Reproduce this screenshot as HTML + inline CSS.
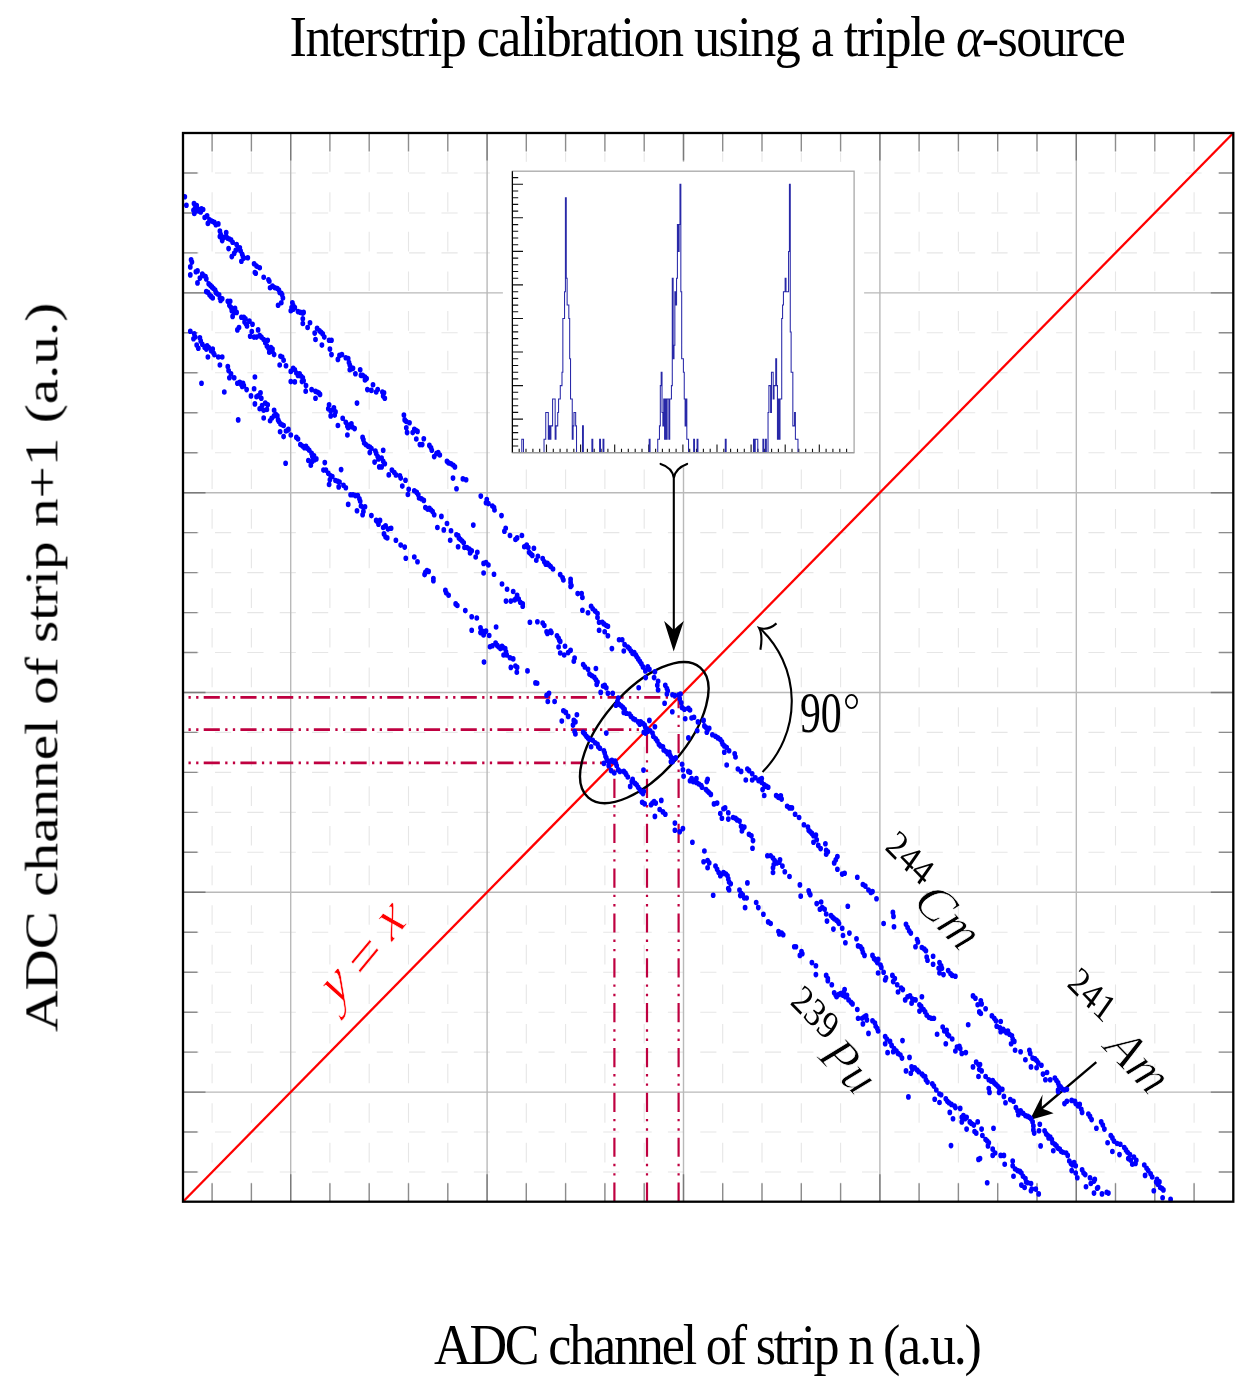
<!DOCTYPE html><html><head><meta charset="utf-8"><style>html,body{margin:0;padding:0;background:#fff;}body{width:1254px;height:1394px;overflow:hidden;position:relative;}svg{position:absolute;left:0;top:0;}text{font-family:"Liberation Serif",serif;}g{filter:saturate(1);}</style></head><body>
<svg width="1254" height="1394" viewBox="0 0 1254 1394">
<path d="M212.1 133V1201.7M251.4 133V1201.7M329.9 133V1201.7M369.2 133V1201.7M408.5 133V1201.7M447.8 133V1201.7M526.3 133V1201.7M565.6 133V1201.7M604.9 133V1201.7M644.2 133V1201.7M722.7 133V1201.7M762 133V1201.7M801.3 133V1201.7M840.6 133V1201.7M919.1 133V1201.7M958.4 133V1201.7M997.7 133V1201.7M1037 133V1201.7M1115.5 133V1201.7M1154.8 133V1201.7M1194.1 133V1201.7" stroke="#e6e6e6" stroke-width="1.1" stroke-dasharray="19.6 20.01" stroke-dashoffset="-19.6" fill="none"/>
<path d="M183 173H1233.3M183 213H1233.3M183 252.9H1233.3M183 332.8H1233.3M183 372.8H1233.3M183 412.8H1233.3M183 452.7H1233.3M183 532.6H1233.3M183 572.6H1233.3M183 612.6H1233.3M183 652.5H1233.3M183 732.4H1233.3M183 772.4H1233.3M183 812.4H1233.3M183 852.3H1233.3M183 932.2H1233.3M183 972.2H1233.3M183 1012.2H1233.3M183 1052.1H1233.3M183 1132H1233.3M183 1172H1233.3" stroke="#e6e6e6" stroke-width="1.1" stroke-dasharray="16.17 16.18" stroke-dashoffset="0.35" fill="none"/>
<path d="M290.7 133V1201.7M487.1 133V1201.7M683.5 133V1201.7M879.9 133V1201.7M1076.3 133V1201.7M183 292.9H1233.3M183 492.7H1233.3M183 692.5H1233.3M183 892.3H1233.3M183 1092.1H1233.3" stroke="#b9b9b9" stroke-width="1.4" fill="none"/>
<path d="M212.1 133V151.5M212.1 1201.7V1183.2M251.4 133V151.5M251.4 1201.7V1183.2M329.9 133V151.5M329.9 1201.7V1183.2M369.2 133V151.5M369.2 1201.7V1183.2M408.5 133V151.5M408.5 1201.7V1183.2M447.8 133V151.5M447.8 1201.7V1183.2M526.3 133V151.5M526.3 1201.7V1183.2M565.6 133V151.5M565.6 1201.7V1183.2M604.9 133V151.5M604.9 1201.7V1183.2M644.2 133V151.5M644.2 1201.7V1183.2M722.7 133V151.5M722.7 1201.7V1183.2M762 133V151.5M762 1201.7V1183.2M801.3 133V151.5M801.3 1201.7V1183.2M840.6 133V151.5M840.6 1201.7V1183.2M919.1 133V151.5M919.1 1201.7V1183.2M958.4 133V151.5M958.4 1201.7V1183.2M997.7 133V151.5M997.7 1201.7V1183.2M1037 133V151.5M1037 1201.7V1183.2M1115.5 133V151.5M1115.5 1201.7V1183.2M1154.8 133V151.5M1154.8 1201.7V1183.2M1194.1 133V151.5M1194.1 1201.7V1183.2M183 173H197.5M1233.3 173H1218.8M183 213H197.5M1233.3 213H1218.8M183 252.9H197.5M1233.3 252.9H1218.8M183 332.8H197.5M1233.3 332.8H1218.8M183 372.8H197.5M1233.3 372.8H1218.8M183 412.8H197.5M1233.3 412.8H1218.8M183 452.7H197.5M1233.3 452.7H1218.8M183 532.6H197.5M1233.3 532.6H1218.8M183 572.6H197.5M1233.3 572.6H1218.8M183 612.6H197.5M1233.3 612.6H1218.8M183 652.5H197.5M1233.3 652.5H1218.8M183 732.4H197.5M1233.3 732.4H1218.8M183 772.4H197.5M1233.3 772.4H1218.8M183 812.4H197.5M1233.3 812.4H1218.8M183 852.3H197.5M1233.3 852.3H1218.8M183 932.2H197.5M1233.3 932.2H1218.8M183 972.2H197.5M1233.3 972.2H1218.8M183 1012.2H197.5M1233.3 1012.2H1218.8M183 1052.1H197.5M1233.3 1052.1H1218.8M183 1132H197.5M1233.3 1132H1218.8M183 1172H197.5M1233.3 1172H1218.8" stroke="#8c8c8c" stroke-width="1.4" fill="none"/>
<path d="M290.7 133V160.5M290.7 1201.7V1174.2M487.1 133V160.5M487.1 1201.7V1174.2M683.5 133V160.5M683.5 1201.7V1174.2M879.9 133V160.5M879.9 1201.7V1174.2M1076.3 133V160.5M1076.3 1201.7V1174.2M183 292.9H205.5M1233.3 292.9H1210.8M183 492.7H205.5M1233.3 492.7H1210.8M183 692.5H205.5M1233.3 692.5H1210.8M183 892.3H205.5M1233.3 892.3H1210.8M183 1092.1H205.5M1233.3 1092.1H1210.8" stroke="#7a7a7a" stroke-width="1.4" fill="none"/>
<path d="M167 762.9H615.5" stroke="#bf0040" stroke-width="2.7" stroke-dasharray="16.12 5.37 2.29 5.37 2.29 5.27" fill="none" clip-path="url(#plotclip)"/>
<path d="M614.4 1201.7V762.9" stroke="#bf0040" stroke-width="2.2" stroke-dasharray="19.21 6.94 2.41 6.94 2.41 6.94" fill="none"/>
<path d="M167 729.6H648.1" stroke="#bf0040" stroke-width="2.7" stroke-dasharray="16.12 5.37 2.29 5.37 2.29 5.27" fill="none" clip-path="url(#plotclip)"/>
<path d="M647 1201.7V729.6" stroke="#bf0040" stroke-width="2.2" stroke-dasharray="19.21 6.94 2.41 6.94 2.41 6.94" fill="none"/>
<path d="M167 697.4H679.7" stroke="#bf0040" stroke-width="2.7" stroke-dasharray="16.12 5.37 2.29 5.37 2.29 5.27" fill="none" clip-path="url(#plotclip)"/>
<path d="M678.6 1201.7V697.4" stroke="#bf0040" stroke-width="2.2" stroke-dasharray="19.21 6.94 2.41 6.94 2.41 6.94" fill="none"/>
<path d="M183 1201.7L1233.3 133" stroke="#ff0000" stroke-width="2.3" fill="none"/>
<ellipse cx="644.3" cy="732.6" rx="85.8" ry="41.5" transform="rotate(-49.3 644.3 732.6)" stroke="#000" stroke-width="2.4" fill="none"/>
<rect x="502.9" y="161.8" width="361.2" height="305.3" fill="#fff"/>
<rect x="512.4" y="171.2" width="341.7" height="281.5" fill="#fff" stroke="#a8a8a8" stroke-width="1.3"/>
<path d="M519.2 452.7V448.7M526 452.7V448.7M532.9 452.7V448.7M539.7 452.7V448.7M546.5 452.7V444.6M553.3 452.7V448.7M560.1 452.7V448.7M567 452.7V448.7M573.8 452.7V448.7M580.6 452.7V444.6M587.4 452.7V448.7M594.2 452.7V448.7M601.1 452.7V448.7M607.9 452.7V448.7M614.7 452.7V444.6M621.5 452.7V448.7M628.3 452.7V448.7M635.2 452.7V448.7M642 452.7V448.7M648.8 452.7V444.6M655.6 452.7V448.7M662.4 452.7V448.7M669.3 452.7V448.7M676.1 452.7V448.7M682.9 452.7V444.6M689.7 452.7V448.7M696.5 452.7V448.7M703.4 452.7V448.7M710.2 452.7V448.7M717 452.7V444.6M723.8 452.7V448.7M730.6 452.7V448.7M737.5 452.7V448.7M744.3 452.7V448.7M751.1 452.7V444.6M757.9 452.7V448.7M764.7 452.7V448.7M771.6 452.7V448.7M778.4 452.7V448.7M785.2 452.7V444.6M792 452.7V448.7M798.8 452.7V448.7M805.7 452.7V448.7M812.5 452.7V448.7M819.3 452.7V444.6M826.1 452.7V448.7M832.9 452.7V448.7M839.8 452.7V448.7M846.6 452.7V448.7M512.4 446H518.2M512.4 439.3H518.2M512.4 432.6H518.2M512.4 425.9H518.2M512.4 419.1H523M512.4 412.4H518.2M512.4 405.7H518.2M512.4 399H518.2M512.4 392.3H518.2M512.4 385.6H523M512.4 378.9H518.2M512.4 372.2H518.2M512.4 365.5H518.2M512.4 358.8H518.2M512.4 352H523M512.4 345.3H518.2M512.4 338.6H518.2M512.4 331.9H518.2M512.4 325.2H518.2M512.4 318.5H523M512.4 311.8H518.2M512.4 305.1H518.2M512.4 298.4H518.2M512.4 291.7H518.2M512.4 284.9H523M512.4 278.2H518.2M512.4 271.5H518.2M512.4 264.8H518.2M512.4 258.1H518.2M512.4 251.4H523M512.4 244.7H518.2M512.4 238H518.2M512.4 231.3H518.2M512.4 224.6H518.2M512.4 217.8H523M512.4 211.1H518.2M512.4 204.4H518.2M512.4 197.7H518.2M512.4 191H518.2M512.4 184.3H523M512.4 177.6H518.2" stroke="#111" stroke-width="1.1" fill="none"/>
<path d="M521.80 452.70V439.28H522.66H523.51V452.70M544.03 452.70V439.28H544.89H545.75V412.44H546.60H547.46H548.31V439.28H549.16V425.86H550.02V439.28H550.88V425.86H551.73H552.59V399.02H553.44H554.29H555.15V439.28H556.00V425.86H556.86H557.72V412.44H558.57V399.02H559.42H560.28V385.60H561.13H561.99V372.18H562.85V318.50H563.70H564.55V291.66H565.41V197.72H566.26V278.24H567.12V305.08H567.98H568.83V318.50H569.68V358.76H570.54V399.02H571.39H572.25V439.28H573.11V425.86H573.96V412.44H574.82H575.67V425.86H576.52V452.70M582.51 452.70V425.86H583.37V452.70M591.91 452.70V439.28H592.77V452.70M599.61 452.70V439.28H600.47V452.70M603.03 452.70V439.28H603.88V452.70M649.20 452.70V439.28H650.06V452.70M657.75 452.70V439.28H658.61H659.46V425.86H660.32V385.60H661.17V372.18H662.02V412.44H662.88V425.86H663.74V399.02H664.59V439.28H665.44V399.02H666.30V439.28H667.15V399.02H668.01H668.87V439.28H669.72V399.02H670.58H671.43V385.60H672.28V278.24H673.14V358.76H674.00V345.34H674.85V291.66H675.70V305.08H676.56V278.24H677.41V224.56H678.27V251.40H679.12V224.56H679.98V184.30H680.84V291.66H681.69V358.76H682.54H683.40V372.18H684.25V399.02H685.11V425.86H685.97V399.02H686.82V439.28H687.67H688.53V452.70M693.66 452.70V439.28H694.51V452.70M697.08 452.70V439.28H697.93V452.70M725.29 452.70V439.28H726.15V452.70M753.51 452.70V439.28H754.37V452.70M755.22 452.70V439.28H756.08H756.93H757.78V452.70M762.91 452.70V439.28H763.77V452.70M765.48 452.70V439.28H766.34V452.70M768.04 452.70V412.44H768.90V385.60H769.75H770.61V412.44H771.46V372.18H772.32H773.17V399.02H774.03V385.60H774.88H775.74V358.76H776.60V385.60H777.45V439.28H778.31V399.02H779.16V439.28H780.01V399.02H780.87H781.72V318.50H782.58V305.08H783.43V291.66H784.29H785.14V278.24H786.00V291.66H786.86H787.71H788.57V251.40H789.42V184.30H790.27V331.92H791.13V372.18H791.99H792.84V425.86H793.69H794.55V412.44H795.40V439.28H796.26H797.12H797.97V452.70" stroke="#2828a8" stroke-width="1.05" fill="none"/>
<path d="M512.4 171.2V452.7" stroke="#000" stroke-width="1.2"/>
<path d="M512.4 452.7H854.1" stroke="#999" stroke-width="1.3"/>
<path d="M660.6 463.9C667.5 466 672.8 470.5 673.8 478M687.1 463.9C680 466.5 674.8 471 673.8 478M673.8 476V632" stroke="#000" stroke-width="2.1" fill="none" stroke-linecap="round"/>
<path d="M673.7 651.6L664.1 621Q669.5 625.5 673.7 630.1Q678 625.5 683.8 621Z" fill="#000"/>
<path d="M1096.3 1062.2L1038 1111.5" stroke="#000" stroke-width="2.3" fill="none"/>
<path d="M1029.8 1120L1042.6 1094.5Q1041.5 1103 1041.8 1108.5Q1047 1110 1053.6 1113.3Z" fill="#000"/>
<path d="M762.5 772A99.9 99.9 0 0 0 760.3 628.6" stroke="#000" stroke-width="2.1" fill="none"/>
<path d="M760.4 649.8Q763 635 759.1 627.9Q768 631 776.5 623.4" stroke="#000" stroke-width="2.1" fill="none"/>
<path d="M182.4 196.7a2.4 2.8 0 1 0 4.8 0a2.4 2.8 0 1 0 -4.8 0M184 205.2a2.4 2.8 0 1 0 4.8 0a2.4 2.8 0 1 0 -4.8 0M191.6 203.6a2.4 2.8 0 1 0 4.8 0a2.4 2.8 0 1 0 -4.8 0M194.3 205.5a2.4 2.8 0 1 0 4.8 0a2.4 2.8 0 1 0 -4.8 0M192.7 207.9a2.4 2.8 0 1 0 4.8 0a2.4 2.8 0 1 0 -4.8 0M191.1 210.3a2.4 2.8 0 1 0 4.8 0a2.4 2.8 0 1 0 -4.8 0M191.9 213.5a2.4 2.8 0 1 0 4.8 0a2.4 2.8 0 1 0 -4.8 0M193.5 211.1a2.4 2.8 0 1 0 4.8 0a2.4 2.8 0 1 0 -4.8 0M195.1 208.7a2.4 2.8 0 1 0 4.8 0a2.4 2.8 0 1 0 -4.8 0M196.7 211.1a2.4 2.8 0 1 0 4.8 0a2.4 2.8 0 1 0 -4.8 0M198.3 211.9a2.4 2.8 0 1 0 4.8 0a2.4 2.8 0 1 0 -4.8 0M199.1 208.7a2.4 2.8 0 1 0 4.8 0a2.4 2.8 0 1 0 -4.8 0M200.7 209.5a2.4 2.8 0 1 0 4.8 0a2.4 2.8 0 1 0 -4.8 0M202.3 217.5a2.4 2.8 0 1 0 4.8 0a2.4 2.8 0 1 0 -4.8 0M204.7 215.9a2.4 2.8 0 1 0 4.8 0a2.4 2.8 0 1 0 -4.8 0M205.5 223.4a2.4 2.8 0 1 0 4.8 0a2.4 2.8 0 1 0 -4.8 0M207.1 219.9a2.4 2.8 0 1 0 4.8 0a2.4 2.8 0 1 0 -4.8 0M208.7 220.7a2.4 2.8 0 1 0 4.8 0a2.4 2.8 0 1 0 -4.8 0M210.3 221.5a2.4 2.8 0 1 0 4.8 0a2.4 2.8 0 1 0 -4.8 0M211.9 222.3a2.4 2.8 0 1 0 4.8 0a2.4 2.8 0 1 0 -4.8 0M213.5 224.7a2.4 2.8 0 1 0 4.8 0a2.4 2.8 0 1 0 -4.8 0M215.9 223.9a2.4 2.8 0 1 0 4.8 0a2.4 2.8 0 1 0 -4.8 0M217.5 231a2.4 2.8 0 1 0 4.8 0a2.4 2.8 0 1 0 -4.8 0M218.2 234.2a2.4 2.8 0 1 0 4.8 0a2.4 2.8 0 1 0 -4.8 0M217.5 236.6a2.4 2.8 0 1 0 4.8 0a2.4 2.8 0 1 0 -4.8 0M219.8 240.6a2.4 2.8 0 1 0 4.8 0a2.4 2.8 0 1 0 -4.8 0M221.4 237.4a2.4 2.8 0 1 0 4.8 0a2.4 2.8 0 1 0 -4.8 0M223.8 232.6a2.4 2.8 0 1 0 4.8 0a2.4 2.8 0 1 0 -4.8 0M223.8 236.6a2.4 2.8 0 1 0 4.8 0a2.4 2.8 0 1 0 -4.8 0M225.4 238.2a2.4 2.8 0 1 0 4.8 0a2.4 2.8 0 1 0 -4.8 0M227 239a2.4 2.8 0 1 0 4.8 0a2.4 2.8 0 1 0 -4.8 0M228.6 239.8a2.4 2.8 0 1 0 4.8 0a2.4 2.8 0 1 0 -4.8 0M230.2 242.2a2.4 2.8 0 1 0 4.8 0a2.4 2.8 0 1 0 -4.8 0M226.2 248.6a2.4 2.8 0 1 0 4.8 0a2.4 2.8 0 1 0 -4.8 0M229.4 256.6a2.4 2.8 0 1 0 4.8 0a2.4 2.8 0 1 0 -4.8 0M231.8 253.4a2.4 2.8 0 1 0 4.8 0a2.4 2.8 0 1 0 -4.8 0M233.4 250.2a2.4 2.8 0 1 0 4.8 0a2.4 2.8 0 1 0 -4.8 0M234.2 244.6a2.4 2.8 0 1 0 4.8 0a2.4 2.8 0 1 0 -4.8 0M235.8 248.6a2.4 2.8 0 1 0 4.8 0a2.4 2.8 0 1 0 -4.8 0M237.4 247.8a2.4 2.8 0 1 0 4.8 0a2.4 2.8 0 1 0 -4.8 0M238.2 251a2.4 2.8 0 1 0 4.8 0a2.4 2.8 0 1 0 -4.8 0M239.8 254.2a2.4 2.8 0 1 0 4.8 0a2.4 2.8 0 1 0 -4.8 0M240.6 256.6a2.4 2.8 0 1 0 4.8 0a2.4 2.8 0 1 0 -4.8 0M239 261.3a2.4 2.8 0 1 0 4.8 0a2.4 2.8 0 1 0 -4.8 0M241.4 258.1a2.4 2.8 0 1 0 4.8 0a2.4 2.8 0 1 0 -4.8 0M245.4 257.8a2.4 2.8 0 1 0 4.8 0a2.4 2.8 0 1 0 -4.8 0M251.7 263.7a2.4 2.8 0 1 0 4.8 0a2.4 2.8 0 1 0 -4.8 0M254.1 266.1a2.4 2.8 0 1 0 4.8 0a2.4 2.8 0 1 0 -4.8 0M257.3 267.7a2.4 2.8 0 1 0 4.8 0a2.4 2.8 0 1 0 -4.8 0M252.5 272.5a2.4 2.8 0 1 0 4.8 0a2.4 2.8 0 1 0 -4.8 0M253.3 273.3a2.4 2.8 0 1 0 4.8 0a2.4 2.8 0 1 0 -4.8 0M261.3 277.3a2.4 2.8 0 1 0 4.8 0a2.4 2.8 0 1 0 -4.8 0M266.1 279.7a2.4 2.8 0 1 0 4.8 0a2.4 2.8 0 1 0 -4.8 0M266.9 281.3a2.4 2.8 0 1 0 4.8 0a2.4 2.8 0 1 0 -4.8 0M267.7 287.7a2.4 2.8 0 1 0 4.8 0a2.4 2.8 0 1 0 -4.8 0M270.1 286.1a2.4 2.8 0 1 0 4.8 0a2.4 2.8 0 1 0 -4.8 0M272.5 287.7a2.4 2.8 0 1 0 4.8 0a2.4 2.8 0 1 0 -4.8 0M274.9 288.5a2.4 2.8 0 1 0 4.8 0a2.4 2.8 0 1 0 -4.8 0M276.5 290a2.4 2.8 0 1 0 4.8 0a2.4 2.8 0 1 0 -4.8 0M277.3 292.4a2.4 2.8 0 1 0 4.8 0a2.4 2.8 0 1 0 -4.8 0M278.9 293.2a2.4 2.8 0 1 0 4.8 0a2.4 2.8 0 1 0 -4.8 0M279.7 294.8a2.4 2.8 0 1 0 4.8 0a2.4 2.8 0 1 0 -4.8 0M280.5 298a2.4 2.8 0 1 0 4.8 0a2.4 2.8 0 1 0 -4.8 0M278.9 302.8a2.4 2.8 0 1 0 4.8 0a2.4 2.8 0 1 0 -4.8 0M275.7 305.2a2.4 2.8 0 1 0 4.8 0a2.4 2.8 0 1 0 -4.8 0M290 302.8a2.4 2.8 0 1 0 4.8 0a2.4 2.8 0 1 0 -4.8 0M290.8 305.2a2.4 2.8 0 1 0 4.8 0a2.4 2.8 0 1 0 -4.8 0M289.2 307.6a2.4 2.8 0 1 0 4.8 0a2.4 2.8 0 1 0 -4.8 0M288.4 310.8a2.4 2.8 0 1 0 4.8 0a2.4 2.8 0 1 0 -4.8 0M290.8 309.2a2.4 2.8 0 1 0 4.8 0a2.4 2.8 0 1 0 -4.8 0M292.4 307.6a2.4 2.8 0 1 0 4.8 0a2.4 2.8 0 1 0 -4.8 0M295.6 311.6a2.4 2.8 0 1 0 4.8 0a2.4 2.8 0 1 0 -4.8 0M298 312.4a2.4 2.8 0 1 0 4.8 0a2.4 2.8 0 1 0 -4.8 0M300.4 313.2a2.4 2.8 0 1 0 4.8 0a2.4 2.8 0 1 0 -4.8 0M301.2 312.4a2.4 2.8 0 1 0 4.8 0a2.4 2.8 0 1 0 -4.8 0M300.4 318.8a2.4 2.8 0 1 0 4.8 0a2.4 2.8 0 1 0 -4.8 0M300.4 323.5a2.4 2.8 0 1 0 4.8 0a2.4 2.8 0 1 0 -4.8 0M305.2 327.5a2.4 2.8 0 1 0 4.8 0a2.4 2.8 0 1 0 -4.8 0M307.6 322.7a2.4 2.8 0 1 0 4.8 0a2.4 2.8 0 1 0 -4.8 0M312.3 333.1a2.4 2.8 0 1 0 4.8 0a2.4 2.8 0 1 0 -4.8 0M313.1 339.5a2.4 2.8 0 1 0 4.8 0a2.4 2.8 0 1 0 -4.8 0M314.7 328.3a2.4 2.8 0 1 0 4.8 0a2.4 2.8 0 1 0 -4.8 0M317.1 330.7a2.4 2.8 0 1 0 4.8 0a2.4 2.8 0 1 0 -4.8 0M318.7 332.3a2.4 2.8 0 1 0 4.8 0a2.4 2.8 0 1 0 -4.8 0M319.5 345.1a2.4 2.8 0 1 0 4.8 0a2.4 2.8 0 1 0 -4.8 0M320.3 333.9a2.4 2.8 0 1 0 4.8 0a2.4 2.8 0 1 0 -4.8 0M321.9 337.1a2.4 2.8 0 1 0 4.8 0a2.4 2.8 0 1 0 -4.8 0M326.7 340.3a2.4 2.8 0 1 0 4.8 0a2.4 2.8 0 1 0 -4.8 0M329.1 340.3a2.4 2.8 0 1 0 4.8 0a2.4 2.8 0 1 0 -4.8 0M327.5 349.1a2.4 2.8 0 1 0 4.8 0a2.4 2.8 0 1 0 -4.8 0M329.1 354.6a2.4 2.8 0 1 0 4.8 0a2.4 2.8 0 1 0 -4.8 0M335.5 359.4a2.4 2.8 0 1 0 4.8 0a2.4 2.8 0 1 0 -4.8 0M337.1 355.4a2.4 2.8 0 1 0 4.8 0a2.4 2.8 0 1 0 -4.8 0M339.5 354.6a2.4 2.8 0 1 0 4.8 0a2.4 2.8 0 1 0 -4.8 0M343.4 357.8a2.4 2.8 0 1 0 4.8 0a2.4 2.8 0 1 0 -4.8 0M345.8 358.6a2.4 2.8 0 1 0 4.8 0a2.4 2.8 0 1 0 -4.8 0M346.6 362.6a2.4 2.8 0 1 0 4.8 0a2.4 2.8 0 1 0 -4.8 0M347.4 365a2.4 2.8 0 1 0 4.8 0a2.4 2.8 0 1 0 -4.8 0M348.2 367.4a2.4 2.8 0 1 0 4.8 0a2.4 2.8 0 1 0 -4.8 0M349 369a2.4 2.8 0 1 0 4.8 0a2.4 2.8 0 1 0 -4.8 0M347.4 369.8a2.4 2.8 0 1 0 4.8 0a2.4 2.8 0 1 0 -4.8 0M350.6 368.2a2.4 2.8 0 1 0 4.8 0a2.4 2.8 0 1 0 -4.8 0M353 373.8a2.4 2.8 0 1 0 4.8 0a2.4 2.8 0 1 0 -4.8 0M357.8 369.8a2.4 2.8 0 1 0 4.8 0a2.4 2.8 0 1 0 -4.8 0M358.6 375.4a2.4 2.8 0 1 0 4.8 0a2.4 2.8 0 1 0 -4.8 0M360.2 375.4a2.4 2.8 0 1 0 4.8 0a2.4 2.8 0 1 0 -4.8 0M362.6 377a2.4 2.8 0 1 0 4.8 0a2.4 2.8 0 1 0 -4.8 0M364.2 378.6a2.4 2.8 0 1 0 4.8 0a2.4 2.8 0 1 0 -4.8 0M188.7 259.7a2.4 2.8 0 1 0 4.8 0a2.4 2.8 0 1 0 -4.8 0M189.5 262.1a2.4 2.8 0 1 0 4.8 0a2.4 2.8 0 1 0 -4.8 0M187.9 266.9a2.4 2.8 0 1 0 4.8 0a2.4 2.8 0 1 0 -4.8 0M187.9 274.9a2.4 2.8 0 1 0 4.8 0a2.4 2.8 0 1 0 -4.8 0M193.5 271.7a2.4 2.8 0 1 0 4.8 0a2.4 2.8 0 1 0 -4.8 0M195.1 270.9a2.4 2.8 0 1 0 4.8 0a2.4 2.8 0 1 0 -4.8 0M195.1 282.9a2.4 2.8 0 1 0 4.8 0a2.4 2.8 0 1 0 -4.8 0M197.5 278.1a2.4 2.8 0 1 0 4.8 0a2.4 2.8 0 1 0 -4.8 0M199.9 274.1a2.4 2.8 0 1 0 4.8 0a2.4 2.8 0 1 0 -4.8 0M201.5 275.7a2.4 2.8 0 1 0 4.8 0a2.4 2.8 0 1 0 -4.8 0M203.1 276.5a2.4 2.8 0 1 0 4.8 0a2.4 2.8 0 1 0 -4.8 0M203.9 278.9a2.4 2.8 0 1 0 4.8 0a2.4 2.8 0 1 0 -4.8 0M203.9 291.6a2.4 2.8 0 1 0 4.8 0a2.4 2.8 0 1 0 -4.8 0M205.5 292.4a2.4 2.8 0 1 0 4.8 0a2.4 2.8 0 1 0 -4.8 0M207.1 294.8a2.4 2.8 0 1 0 4.8 0a2.4 2.8 0 1 0 -4.8 0M208.7 296.4a2.4 2.8 0 1 0 4.8 0a2.4 2.8 0 1 0 -4.8 0M210.3 298a2.4 2.8 0 1 0 4.8 0a2.4 2.8 0 1 0 -4.8 0M206.3 283.7a2.4 2.8 0 1 0 4.8 0a2.4 2.8 0 1 0 -4.8 0M207.9 285.3a2.4 2.8 0 1 0 4.8 0a2.4 2.8 0 1 0 -4.8 0M209.5 286.9a2.4 2.8 0 1 0 4.8 0a2.4 2.8 0 1 0 -4.8 0M211.1 288.5a2.4 2.8 0 1 0 4.8 0a2.4 2.8 0 1 0 -4.8 0M212.7 290a2.4 2.8 0 1 0 4.8 0a2.4 2.8 0 1 0 -4.8 0M213.5 292.4a2.4 2.8 0 1 0 4.8 0a2.4 2.8 0 1 0 -4.8 0M215.1 294a2.4 2.8 0 1 0 4.8 0a2.4 2.8 0 1 0 -4.8 0M216.7 294.8a2.4 2.8 0 1 0 4.8 0a2.4 2.8 0 1 0 -4.8 0M217.5 298a2.4 2.8 0 1 0 4.8 0a2.4 2.8 0 1 0 -4.8 0M218.2 300.4a2.4 2.8 0 1 0 4.8 0a2.4 2.8 0 1 0 -4.8 0M219.8 298.8a2.4 2.8 0 1 0 4.8 0a2.4 2.8 0 1 0 -4.8 0M225.4 301.2a2.4 2.8 0 1 0 4.8 0a2.4 2.8 0 1 0 -4.8 0M227.8 301.2a2.4 2.8 0 1 0 4.8 0a2.4 2.8 0 1 0 -4.8 0M227 305.2a2.4 2.8 0 1 0 4.8 0a2.4 2.8 0 1 0 -4.8 0M228.6 307.6a2.4 2.8 0 1 0 4.8 0a2.4 2.8 0 1 0 -4.8 0M229.4 310.8a2.4 2.8 0 1 0 4.8 0a2.4 2.8 0 1 0 -4.8 0M230.2 316.4a2.4 2.8 0 1 0 4.8 0a2.4 2.8 0 1 0 -4.8 0M231.8 312.4a2.4 2.8 0 1 0 4.8 0a2.4 2.8 0 1 0 -4.8 0M232.6 308.4a2.4 2.8 0 1 0 4.8 0a2.4 2.8 0 1 0 -4.8 0M234.2 312.4a2.4 2.8 0 1 0 4.8 0a2.4 2.8 0 1 0 -4.8 0M235 329.9a2.4 2.8 0 1 0 4.8 0a2.4 2.8 0 1 0 -4.8 0M236.6 327.5a2.4 2.8 0 1 0 4.8 0a2.4 2.8 0 1 0 -4.8 0M239 317.2a2.4 2.8 0 1 0 4.8 0a2.4 2.8 0 1 0 -4.8 0M241.4 317.2a2.4 2.8 0 1 0 4.8 0a2.4 2.8 0 1 0 -4.8 0M243 318.8a2.4 2.8 0 1 0 4.8 0a2.4 2.8 0 1 0 -4.8 0M242.2 321.9a2.4 2.8 0 1 0 4.8 0a2.4 2.8 0 1 0 -4.8 0M243.8 324.3a2.4 2.8 0 1 0 4.8 0a2.4 2.8 0 1 0 -4.8 0M244.6 325.9a2.4 2.8 0 1 0 4.8 0a2.4 2.8 0 1 0 -4.8 0M247 321.1a2.4 2.8 0 1 0 4.8 0a2.4 2.8 0 1 0 -4.8 0M250.1 324.3a2.4 2.8 0 1 0 4.8 0a2.4 2.8 0 1 0 -4.8 0M247.8 336.3a2.4 2.8 0 1 0 4.8 0a2.4 2.8 0 1 0 -4.8 0M249.4 331.5a2.4 2.8 0 1 0 4.8 0a2.4 2.8 0 1 0 -4.8 0M251.7 337.1a2.4 2.8 0 1 0 4.8 0a2.4 2.8 0 1 0 -4.8 0M254.1 337.1a2.4 2.8 0 1 0 4.8 0a2.4 2.8 0 1 0 -4.8 0M255.7 329.9a2.4 2.8 0 1 0 4.8 0a2.4 2.8 0 1 0 -4.8 0M257.3 335.5a2.4 2.8 0 1 0 4.8 0a2.4 2.8 0 1 0 -4.8 0M258.9 337.1a2.4 2.8 0 1 0 4.8 0a2.4 2.8 0 1 0 -4.8 0M261.3 339.5a2.4 2.8 0 1 0 4.8 0a2.4 2.8 0 1 0 -4.8 0M262.9 342.7a2.4 2.8 0 1 0 4.8 0a2.4 2.8 0 1 0 -4.8 0M264.5 345.9a2.4 2.8 0 1 0 4.8 0a2.4 2.8 0 1 0 -4.8 0M265.3 340.3a2.4 2.8 0 1 0 4.8 0a2.4 2.8 0 1 0 -4.8 0M266.1 348.3a2.4 2.8 0 1 0 4.8 0a2.4 2.8 0 1 0 -4.8 0M266.9 352.2a2.4 2.8 0 1 0 4.8 0a2.4 2.8 0 1 0 -4.8 0M268.5 347.5a2.4 2.8 0 1 0 4.8 0a2.4 2.8 0 1 0 -4.8 0M270.1 349.1a2.4 2.8 0 1 0 4.8 0a2.4 2.8 0 1 0 -4.8 0M271.7 354.6a2.4 2.8 0 1 0 4.8 0a2.4 2.8 0 1 0 -4.8 0M270.1 351.5a2.4 2.8 0 1 0 4.8 0a2.4 2.8 0 1 0 -4.8 0M277.3 365a2.4 2.8 0 1 0 4.8 0a2.4 2.8 0 1 0 -4.8 0M278.1 356.2a2.4 2.8 0 1 0 4.8 0a2.4 2.8 0 1 0 -4.8 0M279.7 357a2.4 2.8 0 1 0 4.8 0a2.4 2.8 0 1 0 -4.8 0M281.2 360.2a2.4 2.8 0 1 0 4.8 0a2.4 2.8 0 1 0 -4.8 0M283.6 365.8a2.4 2.8 0 1 0 4.8 0a2.4 2.8 0 1 0 -4.8 0M288.4 371.4a2.4 2.8 0 1 0 4.8 0a2.4 2.8 0 1 0 -4.8 0M290.8 368.2a2.4 2.8 0 1 0 4.8 0a2.4 2.8 0 1 0 -4.8 0M292.4 369.8a2.4 2.8 0 1 0 4.8 0a2.4 2.8 0 1 0 -4.8 0M294 373a2.4 2.8 0 1 0 4.8 0a2.4 2.8 0 1 0 -4.8 0M295.6 375.4a2.4 2.8 0 1 0 4.8 0a2.4 2.8 0 1 0 -4.8 0M297.2 373.8a2.4 2.8 0 1 0 4.8 0a2.4 2.8 0 1 0 -4.8 0M298.8 376.2a2.4 2.8 0 1 0 4.8 0a2.4 2.8 0 1 0 -4.8 0M300.4 377.8a2.4 2.8 0 1 0 4.8 0a2.4 2.8 0 1 0 -4.8 0M187.9 331.2a2.4 2.8 0 1 0 4.8 0a2.4 2.8 0 1 0 -4.8 0M191.9 333.9a2.4 2.8 0 1 0 4.8 0a2.4 2.8 0 1 0 -4.8 0M192.7 337.1a2.4 2.8 0 1 0 4.8 0a2.4 2.8 0 1 0 -4.8 0M191.1 338.7a2.4 2.8 0 1 0 4.8 0a2.4 2.8 0 1 0 -4.8 0M197.5 337.9a2.4 2.8 0 1 0 4.8 0a2.4 2.8 0 1 0 -4.8 0M198.3 341.1a2.4 2.8 0 1 0 4.8 0a2.4 2.8 0 1 0 -4.8 0M194.3 345.1a2.4 2.8 0 1 0 4.8 0a2.4 2.8 0 1 0 -4.8 0M195.9 348.3a2.4 2.8 0 1 0 4.8 0a2.4 2.8 0 1 0 -4.8 0M199.9 344.3a2.4 2.8 0 1 0 4.8 0a2.4 2.8 0 1 0 -4.8 0M202.3 347.5a2.4 2.8 0 1 0 4.8 0a2.4 2.8 0 1 0 -4.8 0M203.9 349.1a2.4 2.8 0 1 0 4.8 0a2.4 2.8 0 1 0 -4.8 0M204.7 345.9a2.4 2.8 0 1 0 4.8 0a2.4 2.8 0 1 0 -4.8 0M206.3 347.5a2.4 2.8 0 1 0 4.8 0a2.4 2.8 0 1 0 -4.8 0M208.7 350.7a2.4 2.8 0 1 0 4.8 0a2.4 2.8 0 1 0 -4.8 0M210.3 349.1a2.4 2.8 0 1 0 4.8 0a2.4 2.8 0 1 0 -4.8 0M211.1 353a2.4 2.8 0 1 0 4.8 0a2.4 2.8 0 1 0 -4.8 0M211.9 354.6a2.4 2.8 0 1 0 4.8 0a2.4 2.8 0 1 0 -4.8 0M205.5 357a2.4 2.8 0 1 0 4.8 0a2.4 2.8 0 1 0 -4.8 0M215.9 357a2.4 2.8 0 1 0 4.8 0a2.4 2.8 0 1 0 -4.8 0M219.8 357a2.4 2.8 0 1 0 4.8 0a2.4 2.8 0 1 0 -4.8 0M217.5 365a2.4 2.8 0 1 0 4.8 0a2.4 2.8 0 1 0 -4.8 0M225.4 366.6a2.4 2.8 0 1 0 4.8 0a2.4 2.8 0 1 0 -4.8 0M226.2 370.6a2.4 2.8 0 1 0 4.8 0a2.4 2.8 0 1 0 -4.8 0M228.6 373.8a2.4 2.8 0 1 0 4.8 0a2.4 2.8 0 1 0 -4.8 0M227 377.8a2.4 2.8 0 1 0 4.8 0a2.4 2.8 0 1 0 -4.8 0M231.8 377.8a2.4 2.8 0 1 0 4.8 0a2.4 2.8 0 1 0 -4.8 0M252.5 377a2.4 2.8 0 1 0 4.8 0a2.4 2.8 0 1 0 -4.8 0M199.1 383.2a2.4 2.8 0 1 0 4.8 0a2.4 2.8 0 1 0 -4.8 0M221.9 392a2.4 2.8 0 1 0 4.8 0a2.4 2.8 0 1 0 -4.8 0M235.8 419.9a2.4 2.8 0 1 0 4.8 0a2.4 2.8 0 1 0 -4.8 0M283.2 463.3a2.4 2.8 0 1 0 4.8 0a2.4 2.8 0 1 0 -4.8 0M235 383.2a2.4 2.8 0 1 0 4.8 0a2.4 2.8 0 1 0 -4.8 0M237.4 382.4a2.4 2.8 0 1 0 4.8 0a2.4 2.8 0 1 0 -4.8 0M239 384.8a2.4 2.8 0 1 0 4.8 0a2.4 2.8 0 1 0 -4.8 0M240.6 383.2a2.4 2.8 0 1 0 4.8 0a2.4 2.8 0 1 0 -4.8 0M239.8 386.4a2.4 2.8 0 1 0 4.8 0a2.4 2.8 0 1 0 -4.8 0M241.4 385.6a2.4 2.8 0 1 0 4.8 0a2.4 2.8 0 1 0 -4.8 0M244.2 389.6a2.4 2.8 0 1 0 4.8 0a2.4 2.8 0 1 0 -4.8 0M251.7 388.8a2.4 2.8 0 1 0 4.8 0a2.4 2.8 0 1 0 -4.8 0M248.6 395.9a2.4 2.8 0 1 0 4.8 0a2.4 2.8 0 1 0 -4.8 0M252.5 403.9a2.4 2.8 0 1 0 4.8 0a2.4 2.8 0 1 0 -4.8 0M254.1 396.7a2.4 2.8 0 1 0 4.8 0a2.4 2.8 0 1 0 -4.8 0M255.7 395.9a2.4 2.8 0 1 0 4.8 0a2.4 2.8 0 1 0 -4.8 0M258.1 392.8a2.4 2.8 0 1 0 4.8 0a2.4 2.8 0 1 0 -4.8 0M258.9 398.3a2.4 2.8 0 1 0 4.8 0a2.4 2.8 0 1 0 -4.8 0M257.3 408.7a2.4 2.8 0 1 0 4.8 0a2.4 2.8 0 1 0 -4.8 0M259.7 405.5a2.4 2.8 0 1 0 4.8 0a2.4 2.8 0 1 0 -4.8 0M261.3 410.3a2.4 2.8 0 1 0 4.8 0a2.4 2.8 0 1 0 -4.8 0M262.9 403.1a2.4 2.8 0 1 0 4.8 0a2.4 2.8 0 1 0 -4.8 0M264.5 409.5a2.4 2.8 0 1 0 4.8 0a2.4 2.8 0 1 0 -4.8 0M265.3 404.7a2.4 2.8 0 1 0 4.8 0a2.4 2.8 0 1 0 -4.8 0M261.3 418a2.4 2.8 0 1 0 4.8 0a2.4 2.8 0 1 0 -4.8 0M267.7 420.7a2.4 2.8 0 1 0 4.8 0a2.4 2.8 0 1 0 -4.8 0M269.3 418.3a2.4 2.8 0 1 0 4.8 0a2.4 2.8 0 1 0 -4.8 0M271.7 410.3a2.4 2.8 0 1 0 4.8 0a2.4 2.8 0 1 0 -4.8 0M271.7 415.9a2.4 2.8 0 1 0 4.8 0a2.4 2.8 0 1 0 -4.8 0M273.3 414.3a2.4 2.8 0 1 0 4.8 0a2.4 2.8 0 1 0 -4.8 0M274.9 415.9a2.4 2.8 0 1 0 4.8 0a2.4 2.8 0 1 0 -4.8 0M275.7 419.9a2.4 2.8 0 1 0 4.8 0a2.4 2.8 0 1 0 -4.8 0M276.5 421.5a2.4 2.8 0 1 0 4.8 0a2.4 2.8 0 1 0 -4.8 0M278.1 423.9a2.4 2.8 0 1 0 4.8 0a2.4 2.8 0 1 0 -4.8 0M279.7 424.7a2.4 2.8 0 1 0 4.8 0a2.4 2.8 0 1 0 -4.8 0M281.2 425.5a2.4 2.8 0 1 0 4.8 0a2.4 2.8 0 1 0 -4.8 0M277.7 431.8a2.4 2.8 0 1 0 4.8 0a2.4 2.8 0 1 0 -4.8 0M281.2 436.6a2.4 2.8 0 1 0 4.8 0a2.4 2.8 0 1 0 -4.8 0M283.6 431a2.4 2.8 0 1 0 4.8 0a2.4 2.8 0 1 0 -4.8 0M285.2 430.2a2.4 2.8 0 1 0 4.8 0a2.4 2.8 0 1 0 -4.8 0M286 429.4a2.4 2.8 0 1 0 4.8 0a2.4 2.8 0 1 0 -4.8 0M288.4 435a2.4 2.8 0 1 0 4.8 0a2.4 2.8 0 1 0 -4.8 0M294 437.4a2.4 2.8 0 1 0 4.8 0a2.4 2.8 0 1 0 -4.8 0M295.6 439a2.4 2.8 0 1 0 4.8 0a2.4 2.8 0 1 0 -4.8 0M298 444.6a2.4 2.8 0 1 0 4.8 0a2.4 2.8 0 1 0 -4.8 0M300.4 446.2a2.4 2.8 0 1 0 4.8 0a2.4 2.8 0 1 0 -4.8 0M302 447.8a2.4 2.8 0 1 0 4.8 0a2.4 2.8 0 1 0 -4.8 0M303.6 446.2a2.4 2.8 0 1 0 4.8 0a2.4 2.8 0 1 0 -4.8 0M305.2 448.6a2.4 2.8 0 1 0 4.8 0a2.4 2.8 0 1 0 -4.8 0M306.8 450.2a2.4 2.8 0 1 0 4.8 0a2.4 2.8 0 1 0 -4.8 0M309.2 453.4a2.4 2.8 0 1 0 4.8 0a2.4 2.8 0 1 0 -4.8 0M310 456.6a2.4 2.8 0 1 0 4.8 0a2.4 2.8 0 1 0 -4.8 0M311.6 455.8a2.4 2.8 0 1 0 4.8 0a2.4 2.8 0 1 0 -4.8 0M312.3 459.7a2.4 2.8 0 1 0 4.8 0a2.4 2.8 0 1 0 -4.8 0M313.9 458.9a2.4 2.8 0 1 0 4.8 0a2.4 2.8 0 1 0 -4.8 0M306 460.5a2.4 2.8 0 1 0 4.8 0a2.4 2.8 0 1 0 -4.8 0M308.4 465.3a2.4 2.8 0 1 0 4.8 0a2.4 2.8 0 1 0 -4.8 0M310 461.3a2.4 2.8 0 1 0 4.8 0a2.4 2.8 0 1 0 -4.8 0M322.4 462.6a2.4 2.8 0 1 0 4.8 0a2.4 2.8 0 1 0 -4.8 0M321.1 470.1a2.4 2.8 0 1 0 4.8 0a2.4 2.8 0 1 0 -4.8 0M323.5 470.1a2.4 2.8 0 1 0 4.8 0a2.4 2.8 0 1 0 -4.8 0M325.9 473.3a2.4 2.8 0 1 0 4.8 0a2.4 2.8 0 1 0 -4.8 0M328.3 475.7a2.4 2.8 0 1 0 4.8 0a2.4 2.8 0 1 0 -4.8 0M329.9 476.5a2.4 2.8 0 1 0 4.8 0a2.4 2.8 0 1 0 -4.8 0M327.5 479.7a2.4 2.8 0 1 0 4.8 0a2.4 2.8 0 1 0 -4.8 0M326.7 484.5a2.4 2.8 0 1 0 4.8 0a2.4 2.8 0 1 0 -4.8 0M333.1 480.5a2.4 2.8 0 1 0 4.8 0a2.4 2.8 0 1 0 -4.8 0M335.5 481.3a2.4 2.8 0 1 0 4.8 0a2.4 2.8 0 1 0 -4.8 0M337.1 482.1a2.4 2.8 0 1 0 4.8 0a2.4 2.8 0 1 0 -4.8 0M336.3 486.9a2.4 2.8 0 1 0 4.8 0a2.4 2.8 0 1 0 -4.8 0M341.1 485.3a2.4 2.8 0 1 0 4.8 0a2.4 2.8 0 1 0 -4.8 0M343.4 487.7a2.4 2.8 0 1 0 4.8 0a2.4 2.8 0 1 0 -4.8 0M338.7 469.6a2.4 2.8 0 1 0 4.8 0a2.4 2.8 0 1 0 -4.8 0M348.2 494.8a2.4 2.8 0 1 0 4.8 0a2.4 2.8 0 1 0 -4.8 0M350.6 494.8a2.4 2.8 0 1 0 4.8 0a2.4 2.8 0 1 0 -4.8 0M353 495.6a2.4 2.8 0 1 0 4.8 0a2.4 2.8 0 1 0 -4.8 0M355.4 495.6a2.4 2.8 0 1 0 4.8 0a2.4 2.8 0 1 0 -4.8 0M357 498.8a2.4 2.8 0 1 0 4.8 0a2.4 2.8 0 1 0 -4.8 0M357.8 501.2a2.4 2.8 0 1 0 4.8 0a2.4 2.8 0 1 0 -4.8 0M345.8 504.4a2.4 2.8 0 1 0 4.8 0a2.4 2.8 0 1 0 -4.8 0M358.6 506a2.4 2.8 0 1 0 4.8 0a2.4 2.8 0 1 0 -4.8 0M361 507.6a2.4 2.8 0 1 0 4.8 0a2.4 2.8 0 1 0 -4.8 0M362.6 506.8a2.4 2.8 0 1 0 4.8 0a2.4 2.8 0 1 0 -4.8 0M354.6 510.8a2.4 2.8 0 1 0 4.8 0a2.4 2.8 0 1 0 -4.8 0M360.2 514.8a2.4 2.8 0 1 0 4.8 0a2.4 2.8 0 1 0 -4.8 0M361 511.6a2.4 2.8 0 1 0 4.8 0a2.4 2.8 0 1 0 -4.8 0M369 515.6a2.4 2.8 0 1 0 4.8 0a2.4 2.8 0 1 0 -4.8 0M373.8 520.4a2.4 2.8 0 1 0 4.8 0a2.4 2.8 0 1 0 -4.8 0M375.3 521.9a2.4 2.8 0 1 0 4.8 0a2.4 2.8 0 1 0 -4.8 0M376.1 524.3a2.4 2.8 0 1 0 4.8 0a2.4 2.8 0 1 0 -4.8 0M288.4 381.6a2.4 2.8 0 1 0 4.8 0a2.4 2.8 0 1 0 -4.8 0M292.4 381.9a2.4 2.8 0 1 0 4.8 0a2.4 2.8 0 1 0 -4.8 0M299.6 381.6a2.4 2.8 0 1 0 4.8 0a2.4 2.8 0 1 0 -4.8 0M301.2 380.8a2.4 2.8 0 1 0 4.8 0a2.4 2.8 0 1 0 -4.8 0M303.6 385.6a2.4 2.8 0 1 0 4.8 0a2.4 2.8 0 1 0 -4.8 0M303.3 391.2a2.4 2.8 0 1 0 4.8 0a2.4 2.8 0 1 0 -4.8 0M309.2 389.6a2.4 2.8 0 1 0 4.8 0a2.4 2.8 0 1 0 -4.8 0M313.1 391.2a2.4 2.8 0 1 0 4.8 0a2.4 2.8 0 1 0 -4.8 0M314.7 392a2.4 2.8 0 1 0 4.8 0a2.4 2.8 0 1 0 -4.8 0M316.3 392.8a2.4 2.8 0 1 0 4.8 0a2.4 2.8 0 1 0 -4.8 0M317.6 394.4a2.4 2.8 0 1 0 4.8 0a2.4 2.8 0 1 0 -4.8 0M313.1 398.3a2.4 2.8 0 1 0 4.8 0a2.4 2.8 0 1 0 -4.8 0M326.7 404.7a2.4 2.8 0 1 0 4.8 0a2.4 2.8 0 1 0 -4.8 0M325.9 408.7a2.4 2.8 0 1 0 4.8 0a2.4 2.8 0 1 0 -4.8 0M328.3 411.1a2.4 2.8 0 1 0 4.8 0a2.4 2.8 0 1 0 -4.8 0M330.7 409.5a2.4 2.8 0 1 0 4.8 0a2.4 2.8 0 1 0 -4.8 0M331.5 407.9a2.4 2.8 0 1 0 4.8 0a2.4 2.8 0 1 0 -4.8 0M333.1 411.9a2.4 2.8 0 1 0 4.8 0a2.4 2.8 0 1 0 -4.8 0M328.3 415.9a2.4 2.8 0 1 0 4.8 0a2.4 2.8 0 1 0 -4.8 0M332.3 415.1a2.4 2.8 0 1 0 4.8 0a2.4 2.8 0 1 0 -4.8 0M335.5 425.5a2.4 2.8 0 1 0 4.8 0a2.4 2.8 0 1 0 -4.8 0M340.3 418.3a2.4 2.8 0 1 0 4.8 0a2.4 2.8 0 1 0 -4.8 0M343.4 422.3a2.4 2.8 0 1 0 4.8 0a2.4 2.8 0 1 0 -4.8 0M345 426.3a2.4 2.8 0 1 0 4.8 0a2.4 2.8 0 1 0 -4.8 0M345.8 427.8a2.4 2.8 0 1 0 4.8 0a2.4 2.8 0 1 0 -4.8 0M347.4 424.7a2.4 2.8 0 1 0 4.8 0a2.4 2.8 0 1 0 -4.8 0M349 423.9a2.4 2.8 0 1 0 4.8 0a2.4 2.8 0 1 0 -4.8 0M349.8 427a2.4 2.8 0 1 0 4.8 0a2.4 2.8 0 1 0 -4.8 0M352.2 428.6a2.4 2.8 0 1 0 4.8 0a2.4 2.8 0 1 0 -4.8 0M345 435a2.4 2.8 0 1 0 4.8 0a2.4 2.8 0 1 0 -4.8 0M354.6 403.1a2.4 2.8 0 1 0 4.8 0a2.4 2.8 0 1 0 -4.8 0M360.2 437.4a2.4 2.8 0 1 0 4.8 0a2.4 2.8 0 1 0 -4.8 0M361 439.8a2.4 2.8 0 1 0 4.8 0a2.4 2.8 0 1 0 -4.8 0M361.8 443a2.4 2.8 0 1 0 4.8 0a2.4 2.8 0 1 0 -4.8 0M363.4 444.6a2.4 2.8 0 1 0 4.8 0a2.4 2.8 0 1 0 -4.8 0M365.8 446.2a2.4 2.8 0 1 0 4.8 0a2.4 2.8 0 1 0 -4.8 0M367.4 447a2.4 2.8 0 1 0 4.8 0a2.4 2.8 0 1 0 -4.8 0M369 448.6a2.4 2.8 0 1 0 4.8 0a2.4 2.8 0 1 0 -4.8 0M367.4 452.6a2.4 2.8 0 1 0 4.8 0a2.4 2.8 0 1 0 -4.8 0M373 451a2.4 2.8 0 1 0 4.8 0a2.4 2.8 0 1 0 -4.8 0M373.8 453.4a2.4 2.8 0 1 0 4.8 0a2.4 2.8 0 1 0 -4.8 0M375.3 456.6a2.4 2.8 0 1 0 4.8 0a2.4 2.8 0 1 0 -4.8 0M376.1 458.9a2.4 2.8 0 1 0 4.8 0a2.4 2.8 0 1 0 -4.8 0M372.2 462.1a2.4 2.8 0 1 0 4.8 0a2.4 2.8 0 1 0 -4.8 0M376.9 466.9a2.4 2.8 0 1 0 4.8 0a2.4 2.8 0 1 0 -4.8 0M362.6 380a2.4 2.8 0 1 0 4.8 0a2.4 2.8 0 1 0 -4.8 0M370.6 384.8a2.4 2.8 0 1 0 4.8 0a2.4 2.8 0 1 0 -4.8 0M365 389.6a2.4 2.8 0 1 0 4.8 0a2.4 2.8 0 1 0 -4.8 0M369 390.4a2.4 2.8 0 1 0 4.8 0a2.4 2.8 0 1 0 -4.8 0M373.8 392a2.4 2.8 0 1 0 4.8 0a2.4 2.8 0 1 0 -4.8 0M375.3 389.6a2.4 2.8 0 1 0 4.8 0a2.4 2.8 0 1 0 -4.8 0M380 392a2.4 2.8 0 1 0 4.8 0a2.4 2.8 0 1 0 -4.8 0M381.6 392.8a2.4 2.8 0 1 0 4.8 0a2.4 2.8 0 1 0 -4.8 0M382.4 398.3a2.4 2.8 0 1 0 4.8 0a2.4 2.8 0 1 0 -4.8 0M380.8 395.9a2.4 2.8 0 1 0 4.8 0a2.4 2.8 0 1 0 -4.8 0M401.5 415.1a2.4 2.8 0 1 0 4.8 0a2.4 2.8 0 1 0 -4.8 0M402.3 419.9a2.4 2.8 0 1 0 4.8 0a2.4 2.8 0 1 0 -4.8 0M403.9 421.5a2.4 2.8 0 1 0 4.8 0a2.4 2.8 0 1 0 -4.8 0M407.1 422.7a2.4 2.8 0 1 0 4.8 0a2.4 2.8 0 1 0 -4.8 0M403.9 427.8a2.4 2.8 0 1 0 4.8 0a2.4 2.8 0 1 0 -4.8 0M404.7 432.6a2.4 2.8 0 1 0 4.8 0a2.4 2.8 0 1 0 -4.8 0M410.3 432.6a2.4 2.8 0 1 0 4.8 0a2.4 2.8 0 1 0 -4.8 0M411.9 429.4a2.4 2.8 0 1 0 4.8 0a2.4 2.8 0 1 0 -4.8 0M413.5 430.2a2.4 2.8 0 1 0 4.8 0a2.4 2.8 0 1 0 -4.8 0M415.1 431.4a2.4 2.8 0 1 0 4.8 0a2.4 2.8 0 1 0 -4.8 0M413.9 439a2.4 2.8 0 1 0 4.8 0a2.4 2.8 0 1 0 -4.8 0M417.5 444.6a2.4 2.8 0 1 0 4.8 0a2.4 2.8 0 1 0 -4.8 0M419.8 444.6a2.4 2.8 0 1 0 4.8 0a2.4 2.8 0 1 0 -4.8 0M421.4 438.7a2.4 2.8 0 1 0 4.8 0a2.4 2.8 0 1 0 -4.8 0M427 445.4a2.4 2.8 0 1 0 4.8 0a2.4 2.8 0 1 0 -4.8 0M428.6 447.8a2.4 2.8 0 1 0 4.8 0a2.4 2.8 0 1 0 -4.8 0M429.4 450.2a2.4 2.8 0 1 0 4.8 0a2.4 2.8 0 1 0 -4.8 0M431.8 456.6a2.4 2.8 0 1 0 4.8 0a2.4 2.8 0 1 0 -4.8 0M434.2 453.4a2.4 2.8 0 1 0 4.8 0a2.4 2.8 0 1 0 -4.8 0M435.8 452.6a2.4 2.8 0 1 0 4.8 0a2.4 2.8 0 1 0 -4.8 0M437.4 455a2.4 2.8 0 1 0 4.8 0a2.4 2.8 0 1 0 -4.8 0M444.6 461.3a2.4 2.8 0 1 0 4.8 0a2.4 2.8 0 1 0 -4.8 0M446.2 462.9a2.4 2.8 0 1 0 4.8 0a2.4 2.8 0 1 0 -4.8 0M448.6 463.7a2.4 2.8 0 1 0 4.8 0a2.4 2.8 0 1 0 -4.8 0M450.9 465.3a2.4 2.8 0 1 0 4.8 0a2.4 2.8 0 1 0 -4.8 0M452.5 466.9a2.4 2.8 0 1 0 4.8 0a2.4 2.8 0 1 0 -4.8 0M450.6 478.1a2.4 2.8 0 1 0 4.8 0a2.4 2.8 0 1 0 -4.8 0M454.1 488.8a2.4 2.8 0 1 0 4.8 0a2.4 2.8 0 1 0 -4.8 0M460.5 478.9a2.4 2.8 0 1 0 4.8 0a2.4 2.8 0 1 0 -4.8 0M463.7 479.7a2.4 2.8 0 1 0 4.8 0a2.4 2.8 0 1 0 -4.8 0M478.4 496.1a2.4 2.8 0 1 0 4.8 0a2.4 2.8 0 1 0 -4.8 0M484.4 499.6a2.4 2.8 0 1 0 4.8 0a2.4 2.8 0 1 0 -4.8 0M483.6 502.8a2.4 2.8 0 1 0 4.8 0a2.4 2.8 0 1 0 -4.8 0M486 503.6a2.4 2.8 0 1 0 4.8 0a2.4 2.8 0 1 0 -4.8 0M490 506a2.4 2.8 0 1 0 4.8 0a2.4 2.8 0 1 0 -4.8 0M491.6 507.6a2.4 2.8 0 1 0 4.8 0a2.4 2.8 0 1 0 -4.8 0M492.1 510a2.4 2.8 0 1 0 4.8 0a2.4 2.8 0 1 0 -4.8 0M499.1 515.6a2.4 2.8 0 1 0 4.8 0a2.4 2.8 0 1 0 -4.8 0M503.3 528.3a2.4 2.8 0 1 0 4.8 0a2.4 2.8 0 1 0 -4.8 0M502 531.2a2.4 2.8 0 1 0 4.8 0a2.4 2.8 0 1 0 -4.8 0M507.6 535.5a2.4 2.8 0 1 0 4.8 0a2.4 2.8 0 1 0 -4.8 0M513.1 539.5a2.4 2.8 0 1 0 4.8 0a2.4 2.8 0 1 0 -4.8 0M514.7 537.9a2.4 2.8 0 1 0 4.8 0a2.4 2.8 0 1 0 -4.8 0M519.5 535.5a2.4 2.8 0 1 0 4.8 0a2.4 2.8 0 1 0 -4.8 0M521.9 546.7a2.4 2.8 0 1 0 4.8 0a2.4 2.8 0 1 0 -4.8 0M524.3 545.1a2.4 2.8 0 1 0 4.8 0a2.4 2.8 0 1 0 -4.8 0M525.9 547.5a2.4 2.8 0 1 0 4.8 0a2.4 2.8 0 1 0 -4.8 0M526.7 552.2a2.4 2.8 0 1 0 4.8 0a2.4 2.8 0 1 0 -4.8 0M528.3 553.8a2.4 2.8 0 1 0 4.8 0a2.4 2.8 0 1 0 -4.8 0M529.9 555.4a2.4 2.8 0 1 0 4.8 0a2.4 2.8 0 1 0 -4.8 0M531.5 548.3a2.4 2.8 0 1 0 4.8 0a2.4 2.8 0 1 0 -4.8 0M533.9 560.2a2.4 2.8 0 1 0 4.8 0a2.4 2.8 0 1 0 -4.8 0M535.5 556.2a2.4 2.8 0 1 0 4.8 0a2.4 2.8 0 1 0 -4.8 0M540.3 558.6a2.4 2.8 0 1 0 4.8 0a2.4 2.8 0 1 0 -4.8 0M541.9 561.8a2.4 2.8 0 1 0 4.8 0a2.4 2.8 0 1 0 -4.8 0M543.4 564.2a2.4 2.8 0 1 0 4.8 0a2.4 2.8 0 1 0 -4.8 0M545 563.4a2.4 2.8 0 1 0 4.8 0a2.4 2.8 0 1 0 -4.8 0M546.6 565a2.4 2.8 0 1 0 4.8 0a2.4 2.8 0 1 0 -4.8 0M548.2 566.6a2.4 2.8 0 1 0 4.8 0a2.4 2.8 0 1 0 -4.8 0M550.6 569a2.4 2.8 0 1 0 4.8 0a2.4 2.8 0 1 0 -4.8 0M557.8 574.6a2.4 2.8 0 1 0 4.8 0a2.4 2.8 0 1 0 -4.8 0M560.2 577.8a2.4 2.8 0 1 0 4.8 0a2.4 2.8 0 1 0 -4.8 0M568.2 579.4a2.4 2.8 0 1 0 4.8 0a2.4 2.8 0 1 0 -4.8 0M380.8 450.2a2.4 2.8 0 1 0 4.8 0a2.4 2.8 0 1 0 -4.8 0M379.2 458.1a2.4 2.8 0 1 0 4.8 0a2.4 2.8 0 1 0 -4.8 0M380.8 461.3a2.4 2.8 0 1 0 4.8 0a2.4 2.8 0 1 0 -4.8 0M382.4 463.7a2.4 2.8 0 1 0 4.8 0a2.4 2.8 0 1 0 -4.8 0M379.2 466.9a2.4 2.8 0 1 0 4.8 0a2.4 2.8 0 1 0 -4.8 0M386.4 474.9a2.4 2.8 0 1 0 4.8 0a2.4 2.8 0 1 0 -4.8 0M389.5 470.1a2.4 2.8 0 1 0 4.8 0a2.4 2.8 0 1 0 -4.8 0M391.9 472.5a2.4 2.8 0 1 0 4.8 0a2.4 2.8 0 1 0 -4.8 0M393.5 474.9a2.4 2.8 0 1 0 4.8 0a2.4 2.8 0 1 0 -4.8 0M397.5 475.7a2.4 2.8 0 1 0 4.8 0a2.4 2.8 0 1 0 -4.8 0M398.3 478.1a2.4 2.8 0 1 0 4.8 0a2.4 2.8 0 1 0 -4.8 0M403.1 480.2a2.4 2.8 0 1 0 4.8 0a2.4 2.8 0 1 0 -4.8 0M399.9 486.1a2.4 2.8 0 1 0 4.8 0a2.4 2.8 0 1 0 -4.8 0M406.3 489.3a2.4 2.8 0 1 0 4.8 0a2.4 2.8 0 1 0 -4.8 0M405.5 494.5a2.4 2.8 0 1 0 4.8 0a2.4 2.8 0 1 0 -4.8 0M411.9 490.8a2.4 2.8 0 1 0 4.8 0a2.4 2.8 0 1 0 -4.8 0M414.3 492.4a2.4 2.8 0 1 0 4.8 0a2.4 2.8 0 1 0 -4.8 0M415.9 494.8a2.4 2.8 0 1 0 4.8 0a2.4 2.8 0 1 0 -4.8 0M416.7 498a2.4 2.8 0 1 0 4.8 0a2.4 2.8 0 1 0 -4.8 0M419 498.8a2.4 2.8 0 1 0 4.8 0a2.4 2.8 0 1 0 -4.8 0M421.4 500.4a2.4 2.8 0 1 0 4.8 0a2.4 2.8 0 1 0 -4.8 0M423 507.6a2.4 2.8 0 1 0 4.8 0a2.4 2.8 0 1 0 -4.8 0M425.4 509.2a2.4 2.8 0 1 0 4.8 0a2.4 2.8 0 1 0 -4.8 0M427 508.4a2.4 2.8 0 1 0 4.8 0a2.4 2.8 0 1 0 -4.8 0M428.6 510a2.4 2.8 0 1 0 4.8 0a2.4 2.8 0 1 0 -4.8 0M430.2 511.6a2.4 2.8 0 1 0 4.8 0a2.4 2.8 0 1 0 -4.8 0M431.8 514.8a2.4 2.8 0 1 0 4.8 0a2.4 2.8 0 1 0 -4.8 0M439 516.4a2.4 2.8 0 1 0 4.8 0a2.4 2.8 0 1 0 -4.8 0M435 527.5a2.4 2.8 0 1 0 4.8 0a2.4 2.8 0 1 0 -4.8 0M441.4 529.9a2.4 2.8 0 1 0 4.8 0a2.4 2.8 0 1 0 -4.8 0M444.6 523.5a2.4 2.8 0 1 0 4.8 0a2.4 2.8 0 1 0 -4.8 0M448.6 530.7a2.4 2.8 0 1 0 4.8 0a2.4 2.8 0 1 0 -4.8 0M447.8 540.3a2.4 2.8 0 1 0 4.8 0a2.4 2.8 0 1 0 -4.8 0M454.1 534.7a2.4 2.8 0 1 0 4.8 0a2.4 2.8 0 1 0 -4.8 0M455.7 535.5a2.4 2.8 0 1 0 4.8 0a2.4 2.8 0 1 0 -4.8 0M456.5 537.9a2.4 2.8 0 1 0 4.8 0a2.4 2.8 0 1 0 -4.8 0M458.1 539.5a2.4 2.8 0 1 0 4.8 0a2.4 2.8 0 1 0 -4.8 0M459.7 541.1a2.4 2.8 0 1 0 4.8 0a2.4 2.8 0 1 0 -4.8 0M461.3 542.7a2.4 2.8 0 1 0 4.8 0a2.4 2.8 0 1 0 -4.8 0M455.7 546.7a2.4 2.8 0 1 0 4.8 0a2.4 2.8 0 1 0 -4.8 0M462.1 547.5a2.4 2.8 0 1 0 4.8 0a2.4 2.8 0 1 0 -4.8 0M464.5 547.5a2.4 2.8 0 1 0 4.8 0a2.4 2.8 0 1 0 -4.8 0M466.9 549.1a2.4 2.8 0 1 0 4.8 0a2.4 2.8 0 1 0 -4.8 0M467.7 553a2.4 2.8 0 1 0 4.8 0a2.4 2.8 0 1 0 -4.8 0M469.3 550.7a2.4 2.8 0 1 0 4.8 0a2.4 2.8 0 1 0 -4.8 0M473.3 557a2.4 2.8 0 1 0 4.8 0a2.4 2.8 0 1 0 -4.8 0M474.9 552.2a2.4 2.8 0 1 0 4.8 0a2.4 2.8 0 1 0 -4.8 0M470.9 525.1a2.4 2.8 0 1 0 4.8 0a2.4 2.8 0 1 0 -4.8 0M481.2 563.4a2.4 2.8 0 1 0 4.8 0a2.4 2.8 0 1 0 -4.8 0M483.6 562.6a2.4 2.8 0 1 0 4.8 0a2.4 2.8 0 1 0 -4.8 0M486 565a2.4 2.8 0 1 0 4.8 0a2.4 2.8 0 1 0 -4.8 0M481.2 573a2.4 2.8 0 1 0 4.8 0a2.4 2.8 0 1 0 -4.8 0M491.6 574.3a2.4 2.8 0 1 0 4.8 0a2.4 2.8 0 1 0 -4.8 0M377.6 520.4a2.4 2.8 0 1 0 4.8 0a2.4 2.8 0 1 0 -4.8 0M380.8 527.5a2.4 2.8 0 1 0 4.8 0a2.4 2.8 0 1 0 -4.8 0M383.2 525.9a2.4 2.8 0 1 0 4.8 0a2.4 2.8 0 1 0 -4.8 0M385.6 529.1a2.4 2.8 0 1 0 4.8 0a2.4 2.8 0 1 0 -4.8 0M388.7 528.3a2.4 2.8 0 1 0 4.8 0a2.4 2.8 0 1 0 -4.8 0M381.6 533.9a2.4 2.8 0 1 0 4.8 0a2.4 2.8 0 1 0 -4.8 0M383.2 537.1a2.4 2.8 0 1 0 4.8 0a2.4 2.8 0 1 0 -4.8 0M384.8 537.9a2.4 2.8 0 1 0 4.8 0a2.4 2.8 0 1 0 -4.8 0M393.5 540.3a2.4 2.8 0 1 0 4.8 0a2.4 2.8 0 1 0 -4.8 0M398.3 545.1a2.4 2.8 0 1 0 4.8 0a2.4 2.8 0 1 0 -4.8 0M402.3 547.1a2.4 2.8 0 1 0 4.8 0a2.4 2.8 0 1 0 -4.8 0M403.4 558.3a2.4 2.8 0 1 0 4.8 0a2.4 2.8 0 1 0 -4.8 0M411.9 557a2.4 2.8 0 1 0 4.8 0a2.4 2.8 0 1 0 -4.8 0M415.1 561.8a2.4 2.8 0 1 0 4.8 0a2.4 2.8 0 1 0 -4.8 0M423 572.2a2.4 2.8 0 1 0 4.8 0a2.4 2.8 0 1 0 -4.8 0M424.6 570.6a2.4 2.8 0 1 0 4.8 0a2.4 2.8 0 1 0 -4.8 0M426.2 571.4a2.4 2.8 0 1 0 4.8 0a2.4 2.8 0 1 0 -4.8 0M422.2 574.6a2.4 2.8 0 1 0 4.8 0a2.4 2.8 0 1 0 -4.8 0M431 578.6a2.4 2.8 0 1 0 4.8 0a2.4 2.8 0 1 0 -4.8 0M431 580.8a2.4 2.8 0 1 0 4.8 0a2.4 2.8 0 1 0 -4.8 0M443 590.4a2.4 2.8 0 1 0 4.8 0a2.4 2.8 0 1 0 -4.8 0M443.8 592.8a2.4 2.8 0 1 0 4.8 0a2.4 2.8 0 1 0 -4.8 0M446.2 595.2a2.4 2.8 0 1 0 4.8 0a2.4 2.8 0 1 0 -4.8 0M453.3 603.9a2.4 2.8 0 1 0 4.8 0a2.4 2.8 0 1 0 -4.8 0M454.9 605.5a2.4 2.8 0 1 0 4.8 0a2.4 2.8 0 1 0 -4.8 0M462.9 610.6a2.4 2.8 0 1 0 4.8 0a2.4 2.8 0 1 0 -4.8 0M469.3 616.7a2.4 2.8 0 1 0 4.8 0a2.4 2.8 0 1 0 -4.8 0M474.4 618a2.4 2.8 0 1 0 4.8 0a2.4 2.8 0 1 0 -4.8 0M469.3 630.2a2.4 2.8 0 1 0 4.8 0a2.4 2.8 0 1 0 -4.8 0M478.1 627.8a2.4 2.8 0 1 0 4.8 0a2.4 2.8 0 1 0 -4.8 0M479.7 631a2.4 2.8 0 1 0 4.8 0a2.4 2.8 0 1 0 -4.8 0M478.1 632.6a2.4 2.8 0 1 0 4.8 0a2.4 2.8 0 1 0 -4.8 0M481.2 635a2.4 2.8 0 1 0 4.8 0a2.4 2.8 0 1 0 -4.8 0M482.8 631.8a2.4 2.8 0 1 0 4.8 0a2.4 2.8 0 1 0 -4.8 0M483.6 631a2.4 2.8 0 1 0 4.8 0a2.4 2.8 0 1 0 -4.8 0M486.8 635.5a2.4 2.8 0 1 0 4.8 0a2.4 2.8 0 1 0 -4.8 0M493.7 627a2.4 2.8 0 1 0 4.8 0a2.4 2.8 0 1 0 -4.8 0M481.6 662.1a2.4 2.8 0 1 0 4.8 0a2.4 2.8 0 1 0 -4.8 0M487.6 646.7a2.4 2.8 0 1 0 4.8 0a2.4 2.8 0 1 0 -4.8 0M490 645.7a2.4 2.8 0 1 0 4.8 0a2.4 2.8 0 1 0 -4.8 0M493.2 643a2.4 2.8 0 1 0 4.8 0a2.4 2.8 0 1 0 -4.8 0M494.8 645.4a2.4 2.8 0 1 0 4.8 0a2.4 2.8 0 1 0 -4.8 0M496.4 647a2.4 2.8 0 1 0 4.8 0a2.4 2.8 0 1 0 -4.8 0M498 648.6a2.4 2.8 0 1 0 4.8 0a2.4 2.8 0 1 0 -4.8 0M499.6 646.2a2.4 2.8 0 1 0 4.8 0a2.4 2.8 0 1 0 -4.8 0M501.2 647.8a2.4 2.8 0 1 0 4.8 0a2.4 2.8 0 1 0 -4.8 0M502.8 648.6a2.4 2.8 0 1 0 4.8 0a2.4 2.8 0 1 0 -4.8 0M503.6 651.8a2.4 2.8 0 1 0 4.8 0a2.4 2.8 0 1 0 -4.8 0M501.2 655a2.4 2.8 0 1 0 4.8 0a2.4 2.8 0 1 0 -4.8 0M502.8 654.2a2.4 2.8 0 1 0 4.8 0a2.4 2.8 0 1 0 -4.8 0M504.4 655a2.4 2.8 0 1 0 4.8 0a2.4 2.8 0 1 0 -4.8 0M507.6 657.8a2.4 2.8 0 1 0 4.8 0a2.4 2.8 0 1 0 -4.8 0M510.8 658.9a2.4 2.8 0 1 0 4.8 0a2.4 2.8 0 1 0 -4.8 0M508.4 667.4a2.4 2.8 0 1 0 4.8 0a2.4 2.8 0 1 0 -4.8 0M513.1 666.1a2.4 2.8 0 1 0 4.8 0a2.4 2.8 0 1 0 -4.8 0M514.7 667.4a2.4 2.8 0 1 0 4.8 0a2.4 2.8 0 1 0 -4.8 0M514.4 672.2a2.4 2.8 0 1 0 4.8 0a2.4 2.8 0 1 0 -4.8 0M525.1 670.9a2.4 2.8 0 1 0 4.8 0a2.4 2.8 0 1 0 -4.8 0M533.1 682.9a2.4 2.8 0 1 0 4.8 0a2.4 2.8 0 1 0 -4.8 0M534.7 683.3a2.4 2.8 0 1 0 4.8 0a2.4 2.8 0 1 0 -4.8 0M544.2 695.2a2.4 2.8 0 1 0 4.8 0a2.4 2.8 0 1 0 -4.8 0M546.6 693.2a2.4 2.8 0 1 0 4.8 0a2.4 2.8 0 1 0 -4.8 0M545.4 701.5a2.4 2.8 0 1 0 4.8 0a2.4 2.8 0 1 0 -4.8 0M552.2 701.5a2.4 2.8 0 1 0 4.8 0a2.4 2.8 0 1 0 -4.8 0M561 710.8a2.4 2.8 0 1 0 4.8 0a2.4 2.8 0 1 0 -4.8 0M563.4 712.4a2.4 2.8 0 1 0 4.8 0a2.4 2.8 0 1 0 -4.8 0M565.8 716.4a2.4 2.8 0 1 0 4.8 0a2.4 2.8 0 1 0 -4.8 0M559.4 721.1a2.4 2.8 0 1 0 4.8 0a2.4 2.8 0 1 0 -4.8 0M571.4 720.4a2.4 2.8 0 1 0 4.8 0a2.4 2.8 0 1 0 -4.8 0M573 721.9a2.4 2.8 0 1 0 4.8 0a2.4 2.8 0 1 0 -4.8 0M574.5 714.8a2.4 2.8 0 1 0 4.8 0a2.4 2.8 0 1 0 -4.8 0M570.6 725.1a2.4 2.8 0 1 0 4.8 0a2.4 2.8 0 1 0 -4.8 0M572.2 731.5a2.4 2.8 0 1 0 4.8 0a2.4 2.8 0 1 0 -4.8 0M573 733.9a2.4 2.8 0 1 0 4.8 0a2.4 2.8 0 1 0 -4.8 0M499.6 584a2.4 2.8 0 1 0 4.8 0a2.4 2.8 0 1 0 -4.8 0M504.7 589.3a2.4 2.8 0 1 0 4.8 0a2.4 2.8 0 1 0 -4.8 0M510.8 591.5a2.4 2.8 0 1 0 4.8 0a2.4 2.8 0 1 0 -4.8 0M514.7 595.2a2.4 2.8 0 1 0 4.8 0a2.4 2.8 0 1 0 -4.8 0M513.9 598.3a2.4 2.8 0 1 0 4.8 0a2.4 2.8 0 1 0 -4.8 0M516.3 599.1a2.4 2.8 0 1 0 4.8 0a2.4 2.8 0 1 0 -4.8 0M517.9 602.3a2.4 2.8 0 1 0 4.8 0a2.4 2.8 0 1 0 -4.8 0M520.3 603.9a2.4 2.8 0 1 0 4.8 0a2.4 2.8 0 1 0 -4.8 0M520.3 606.3a2.4 2.8 0 1 0 4.8 0a2.4 2.8 0 1 0 -4.8 0M503.6 601.1a2.4 2.8 0 1 0 4.8 0a2.4 2.8 0 1 0 -4.8 0M508.4 601.1a2.4 2.8 0 1 0 4.8 0a2.4 2.8 0 1 0 -4.8 0M512.3 599.9a2.4 2.8 0 1 0 4.8 0a2.4 2.8 0 1 0 -4.8 0M527.5 622.3a2.4 2.8 0 1 0 4.8 0a2.4 2.8 0 1 0 -4.8 0M535 621.8a2.4 2.8 0 1 0 4.8 0a2.4 2.8 0 1 0 -4.8 0M540.3 623.1a2.4 2.8 0 1 0 4.8 0a2.4 2.8 0 1 0 -4.8 0M541.9 625.5a2.4 2.8 0 1 0 4.8 0a2.4 2.8 0 1 0 -4.8 0M544.2 631.8a2.4 2.8 0 1 0 4.8 0a2.4 2.8 0 1 0 -4.8 0M545 633.4a2.4 2.8 0 1 0 4.8 0a2.4 2.8 0 1 0 -4.8 0M548.2 631a2.4 2.8 0 1 0 4.8 0a2.4 2.8 0 1 0 -4.8 0M549 632.6a2.4 2.8 0 1 0 4.8 0a2.4 2.8 0 1 0 -4.8 0M554.6 635.8a2.4 2.8 0 1 0 4.8 0a2.4 2.8 0 1 0 -4.8 0M556.2 638.2a2.4 2.8 0 1 0 4.8 0a2.4 2.8 0 1 0 -4.8 0M557 640.6a2.4 2.8 0 1 0 4.8 0a2.4 2.8 0 1 0 -4.8 0M557.8 641.4a2.4 2.8 0 1 0 4.8 0a2.4 2.8 0 1 0 -4.8 0M556.2 647a2.4 2.8 0 1 0 4.8 0a2.4 2.8 0 1 0 -4.8 0M557.8 653a2.4 2.8 0 1 0 4.8 0a2.4 2.8 0 1 0 -4.8 0M562.6 646.2a2.4 2.8 0 1 0 4.8 0a2.4 2.8 0 1 0 -4.8 0M561.8 655a2.4 2.8 0 1 0 4.8 0a2.4 2.8 0 1 0 -4.8 0M565.8 652.6a2.4 2.8 0 1 0 4.8 0a2.4 2.8 0 1 0 -4.8 0M568.2 650.2a2.4 2.8 0 1 0 4.8 0a2.4 2.8 0 1 0 -4.8 0M571.4 661.3a2.4 2.8 0 1 0 4.8 0a2.4 2.8 0 1 0 -4.8 0M572.2 658.1a2.4 2.8 0 1 0 4.8 0a2.4 2.8 0 1 0 -4.8 0M561 580a2.4 2.8 0 1 0 4.8 0a2.4 2.8 0 1 0 -4.8 0M568.2 582.4a2.4 2.8 0 1 0 4.8 0a2.4 2.8 0 1 0 -4.8 0M569 585.6a2.4 2.8 0 1 0 4.8 0a2.4 2.8 0 1 0 -4.8 0M568.2 586.4a2.4 2.8 0 1 0 4.8 0a2.4 2.8 0 1 0 -4.8 0M575.3 593.6a2.4 2.8 0 1 0 4.8 0a2.4 2.8 0 1 0 -4.8 0M579.2 593.6a2.4 2.8 0 1 0 4.8 0a2.4 2.8 0 1 0 -4.8 0M580 597.5a2.4 2.8 0 1 0 4.8 0a2.4 2.8 0 1 0 -4.8 0M580 610.3a2.4 2.8 0 1 0 4.8 0a2.4 2.8 0 1 0 -4.8 0M585.6 612.7a2.4 2.8 0 1 0 4.8 0a2.4 2.8 0 1 0 -4.8 0M588.7 606.3a2.4 2.8 0 1 0 4.8 0a2.4 2.8 0 1 0 -4.8 0M590.3 608.7a2.4 2.8 0 1 0 4.8 0a2.4 2.8 0 1 0 -4.8 0M592.7 611.1a2.4 2.8 0 1 0 4.8 0a2.4 2.8 0 1 0 -4.8 0M595.1 613.5a2.4 2.8 0 1 0 4.8 0a2.4 2.8 0 1 0 -4.8 0M595.1 617.5a2.4 2.8 0 1 0 4.8 0a2.4 2.8 0 1 0 -4.8 0M596.7 622.3a2.4 2.8 0 1 0 4.8 0a2.4 2.8 0 1 0 -4.8 0M599.9 622.3a2.4 2.8 0 1 0 4.8 0a2.4 2.8 0 1 0 -4.8 0M601.5 623.9a2.4 2.8 0 1 0 4.8 0a2.4 2.8 0 1 0 -4.8 0M603.9 625.5a2.4 2.8 0 1 0 4.8 0a2.4 2.8 0 1 0 -4.8 0M605.5 626.3a2.4 2.8 0 1 0 4.8 0a2.4 2.8 0 1 0 -4.8 0M596.7 630.2a2.4 2.8 0 1 0 4.8 0a2.4 2.8 0 1 0 -4.8 0M602.3 631.8a2.4 2.8 0 1 0 4.8 0a2.4 2.8 0 1 0 -4.8 0M605.5 635.8a2.4 2.8 0 1 0 4.8 0a2.4 2.8 0 1 0 -4.8 0M609.5 648.6a2.4 2.8 0 1 0 4.8 0a2.4 2.8 0 1 0 -4.8 0M616.7 639.8a2.4 2.8 0 1 0 4.8 0a2.4 2.8 0 1 0 -4.8 0M619.8 639.8a2.4 2.8 0 1 0 4.8 0a2.4 2.8 0 1 0 -4.8 0M622.2 644.6a2.4 2.8 0 1 0 4.8 0a2.4 2.8 0 1 0 -4.8 0M621.4 651a2.4 2.8 0 1 0 4.8 0a2.4 2.8 0 1 0 -4.8 0M625.4 647a2.4 2.8 0 1 0 4.8 0a2.4 2.8 0 1 0 -4.8 0M627 648.6a2.4 2.8 0 1 0 4.8 0a2.4 2.8 0 1 0 -4.8 0M628.6 651a2.4 2.8 0 1 0 4.8 0a2.4 2.8 0 1 0 -4.8 0M630.2 653.4a2.4 2.8 0 1 0 4.8 0a2.4 2.8 0 1 0 -4.8 0M631.8 652.6a2.4 2.8 0 1 0 4.8 0a2.4 2.8 0 1 0 -4.8 0M633.4 655a2.4 2.8 0 1 0 4.8 0a2.4 2.8 0 1 0 -4.8 0M634.2 656.6a2.4 2.8 0 1 0 4.8 0a2.4 2.8 0 1 0 -4.8 0M635.8 658.9a2.4 2.8 0 1 0 4.8 0a2.4 2.8 0 1 0 -4.8 0M637.4 661.3a2.4 2.8 0 1 0 4.8 0a2.4 2.8 0 1 0 -4.8 0M639 663.7a2.4 2.8 0 1 0 4.8 0a2.4 2.8 0 1 0 -4.8 0M640.6 666.9a2.4 2.8 0 1 0 4.8 0a2.4 2.8 0 1 0 -4.8 0M643 670.9a2.4 2.8 0 1 0 4.8 0a2.4 2.8 0 1 0 -4.8 0M645.4 666.9a2.4 2.8 0 1 0 4.8 0a2.4 2.8 0 1 0 -4.8 0M647 669.3a2.4 2.8 0 1 0 4.8 0a2.4 2.8 0 1 0 -4.8 0M643.3 677.6a2.4 2.8 0 1 0 4.8 0a2.4 2.8 0 1 0 -4.8 0M651.7 677.6a2.4 2.8 0 1 0 4.8 0a2.4 2.8 0 1 0 -4.8 0M652.5 671.7a2.4 2.8 0 1 0 4.8 0a2.4 2.8 0 1 0 -4.8 0M655.7 681.3a2.4 2.8 0 1 0 4.8 0a2.4 2.8 0 1 0 -4.8 0M654.9 685.3a2.4 2.8 0 1 0 4.8 0a2.4 2.8 0 1 0 -4.8 0M655.7 690a2.4 2.8 0 1 0 4.8 0a2.4 2.8 0 1 0 -4.8 0M662.9 685.3a2.4 2.8 0 1 0 4.8 0a2.4 2.8 0 1 0 -4.8 0M664.5 688.5a2.4 2.8 0 1 0 4.8 0a2.4 2.8 0 1 0 -4.8 0M665.3 690.8a2.4 2.8 0 1 0 4.8 0a2.4 2.8 0 1 0 -4.8 0M664.5 694a2.4 2.8 0 1 0 4.8 0a2.4 2.8 0 1 0 -4.8 0M670.1 694.8a2.4 2.8 0 1 0 4.8 0a2.4 2.8 0 1 0 -4.8 0M672.5 695.6a2.4 2.8 0 1 0 4.8 0a2.4 2.8 0 1 0 -4.8 0M676.5 694.8a2.4 2.8 0 1 0 4.8 0a2.4 2.8 0 1 0 -4.8 0M678.1 694a2.4 2.8 0 1 0 4.8 0a2.4 2.8 0 1 0 -4.8 0M677.3 698.8a2.4 2.8 0 1 0 4.8 0a2.4 2.8 0 1 0 -4.8 0M678.9 702.8a2.4 2.8 0 1 0 4.8 0a2.4 2.8 0 1 0 -4.8 0M679.7 707.6a2.4 2.8 0 1 0 4.8 0a2.4 2.8 0 1 0 -4.8 0M682 709.2a2.4 2.8 0 1 0 4.8 0a2.4 2.8 0 1 0 -4.8 0M686 708.4a2.4 2.8 0 1 0 4.8 0a2.4 2.8 0 1 0 -4.8 0M687.6 710a2.4 2.8 0 1 0 4.8 0a2.4 2.8 0 1 0 -4.8 0M682.8 718.8a2.4 2.8 0 1 0 4.8 0a2.4 2.8 0 1 0 -4.8 0M689.2 718a2.4 2.8 0 1 0 4.8 0a2.4 2.8 0 1 0 -4.8 0M691.6 717.2a2.4 2.8 0 1 0 4.8 0a2.4 2.8 0 1 0 -4.8 0M695.6 721.9a2.4 2.8 0 1 0 4.8 0a2.4 2.8 0 1 0 -4.8 0M701.2 720.4a2.4 2.8 0 1 0 4.8 0a2.4 2.8 0 1 0 -4.8 0M702 725.9a2.4 2.8 0 1 0 4.8 0a2.4 2.8 0 1 0 -4.8 0M703.6 727.5a2.4 2.8 0 1 0 4.8 0a2.4 2.8 0 1 0 -4.8 0M705.2 729.9a2.4 2.8 0 1 0 4.8 0a2.4 2.8 0 1 0 -4.8 0M706.8 728.3a2.4 2.8 0 1 0 4.8 0a2.4 2.8 0 1 0 -4.8 0M704.4 732.3a2.4 2.8 0 1 0 4.8 0a2.4 2.8 0 1 0 -4.8 0M710 734.7a2.4 2.8 0 1 0 4.8 0a2.4 2.8 0 1 0 -4.8 0M713.1 736.3a2.4 2.8 0 1 0 4.8 0a2.4 2.8 0 1 0 -4.8 0M715.5 737.9a2.4 2.8 0 1 0 4.8 0a2.4 2.8 0 1 0 -4.8 0M717.9 739.5a2.4 2.8 0 1 0 4.8 0a2.4 2.8 0 1 0 -4.8 0M719.5 741.9a2.4 2.8 0 1 0 4.8 0a2.4 2.8 0 1 0 -4.8 0M720.3 744.3a2.4 2.8 0 1 0 4.8 0a2.4 2.8 0 1 0 -4.8 0M721.9 745.9a2.4 2.8 0 1 0 4.8 0a2.4 2.8 0 1 0 -4.8 0M724.3 747.5a2.4 2.8 0 1 0 4.8 0a2.4 2.8 0 1 0 -4.8 0M726.7 750.7a2.4 2.8 0 1 0 4.8 0a2.4 2.8 0 1 0 -4.8 0M721.9 752.2a2.4 2.8 0 1 0 4.8 0a2.4 2.8 0 1 0 -4.8 0M732.3 753.8a2.4 2.8 0 1 0 4.8 0a2.4 2.8 0 1 0 -4.8 0M733.1 757a2.4 2.8 0 1 0 4.8 0a2.4 2.8 0 1 0 -4.8 0M724.3 765a2.4 2.8 0 1 0 4.8 0a2.4 2.8 0 1 0 -4.8 0M735.5 769a2.4 2.8 0 1 0 4.8 0a2.4 2.8 0 1 0 -4.8 0M738.7 771.4a2.4 2.8 0 1 0 4.8 0a2.4 2.8 0 1 0 -4.8 0M745 769a2.4 2.8 0 1 0 4.8 0a2.4 2.8 0 1 0 -4.8 0M746.6 770.6a2.4 2.8 0 1 0 4.8 0a2.4 2.8 0 1 0 -4.8 0M749.8 773.8a2.4 2.8 0 1 0 4.8 0a2.4 2.8 0 1 0 -4.8 0M753 777.8a2.4 2.8 0 1 0 4.8 0a2.4 2.8 0 1 0 -4.8 0M759.4 778.6a2.4 2.8 0 1 0 4.8 0a2.4 2.8 0 1 0 -4.8 0M757.8 779.4a2.4 2.8 0 1 0 4.8 0a2.4 2.8 0 1 0 -4.8 0M580.8 664.5a2.4 2.8 0 1 0 4.8 0a2.4 2.8 0 1 0 -4.8 0M582.4 666.9a2.4 2.8 0 1 0 4.8 0a2.4 2.8 0 1 0 -4.8 0M585.6 669.3a2.4 2.8 0 1 0 4.8 0a2.4 2.8 0 1 0 -4.8 0M587.1 674.1a2.4 2.8 0 1 0 4.8 0a2.4 2.8 0 1 0 -4.8 0M589.5 675.7a2.4 2.8 0 1 0 4.8 0a2.4 2.8 0 1 0 -4.8 0M591.9 677.3a2.4 2.8 0 1 0 4.8 0a2.4 2.8 0 1 0 -4.8 0M593.5 679.7a2.4 2.8 0 1 0 4.8 0a2.4 2.8 0 1 0 -4.8 0M595.1 682.1a2.4 2.8 0 1 0 4.8 0a2.4 2.8 0 1 0 -4.8 0M594.3 684.5a2.4 2.8 0 1 0 4.8 0a2.4 2.8 0 1 0 -4.8 0M600.7 686.1a2.4 2.8 0 1 0 4.8 0a2.4 2.8 0 1 0 -4.8 0M602.3 685.3a2.4 2.8 0 1 0 4.8 0a2.4 2.8 0 1 0 -4.8 0M603.9 687.7a2.4 2.8 0 1 0 4.8 0a2.4 2.8 0 1 0 -4.8 0M598.3 692.4a2.4 2.8 0 1 0 4.8 0a2.4 2.8 0 1 0 -4.8 0M605.5 693.2a2.4 2.8 0 1 0 4.8 0a2.4 2.8 0 1 0 -4.8 0M610.3 693.2a2.4 2.8 0 1 0 4.8 0a2.4 2.8 0 1 0 -4.8 0M615.9 698a2.4 2.8 0 1 0 4.8 0a2.4 2.8 0 1 0 -4.8 0M615.1 701.2a2.4 2.8 0 1 0 4.8 0a2.4 2.8 0 1 0 -4.8 0M613.5 705.2a2.4 2.8 0 1 0 4.8 0a2.4 2.8 0 1 0 -4.8 0M616.7 704.4a2.4 2.8 0 1 0 4.8 0a2.4 2.8 0 1 0 -4.8 0M619 706a2.4 2.8 0 1 0 4.8 0a2.4 2.8 0 1 0 -4.8 0M620.6 707.6a2.4 2.8 0 1 0 4.8 0a2.4 2.8 0 1 0 -4.8 0M622.2 709.2a2.4 2.8 0 1 0 4.8 0a2.4 2.8 0 1 0 -4.8 0M621.4 712.4a2.4 2.8 0 1 0 4.8 0a2.4 2.8 0 1 0 -4.8 0M623.8 713.2a2.4 2.8 0 1 0 4.8 0a2.4 2.8 0 1 0 -4.8 0M627 714a2.4 2.8 0 1 0 4.8 0a2.4 2.8 0 1 0 -4.8 0M628.6 716.4a2.4 2.8 0 1 0 4.8 0a2.4 2.8 0 1 0 -4.8 0M631 718.8a2.4 2.8 0 1 0 4.8 0a2.4 2.8 0 1 0 -4.8 0M632.6 719.6a2.4 2.8 0 1 0 4.8 0a2.4 2.8 0 1 0 -4.8 0M635.8 721.9a2.4 2.8 0 1 0 4.8 0a2.4 2.8 0 1 0 -4.8 0M637.4 724.3a2.4 2.8 0 1 0 4.8 0a2.4 2.8 0 1 0 -4.8 0M638.2 721.9a2.4 2.8 0 1 0 4.8 0a2.4 2.8 0 1 0 -4.8 0M640.6 723.5a2.4 2.8 0 1 0 4.8 0a2.4 2.8 0 1 0 -4.8 0M642.2 725.1a2.4 2.8 0 1 0 4.8 0a2.4 2.8 0 1 0 -4.8 0M643 727.5a2.4 2.8 0 1 0 4.8 0a2.4 2.8 0 1 0 -4.8 0M644.6 729.1a2.4 2.8 0 1 0 4.8 0a2.4 2.8 0 1 0 -4.8 0M641.4 732.3a2.4 2.8 0 1 0 4.8 0a2.4 2.8 0 1 0 -4.8 0M643 733.1a2.4 2.8 0 1 0 4.8 0a2.4 2.8 0 1 0 -4.8 0M645.4 731.5a2.4 2.8 0 1 0 4.8 0a2.4 2.8 0 1 0 -4.8 0M647 720.4a2.4 2.8 0 1 0 4.8 0a2.4 2.8 0 1 0 -4.8 0M647.8 730.7a2.4 2.8 0 1 0 4.8 0a2.4 2.8 0 1 0 -4.8 0M650.1 733.1a2.4 2.8 0 1 0 4.8 0a2.4 2.8 0 1 0 -4.8 0M650.9 736.3a2.4 2.8 0 1 0 4.8 0a2.4 2.8 0 1 0 -4.8 0M652.5 726.7a2.4 2.8 0 1 0 4.8 0a2.4 2.8 0 1 0 -4.8 0M653.3 738.7a2.4 2.8 0 1 0 4.8 0a2.4 2.8 0 1 0 -4.8 0M654.9 741.1a2.4 2.8 0 1 0 4.8 0a2.4 2.8 0 1 0 -4.8 0M656.5 744.3a2.4 2.8 0 1 0 4.8 0a2.4 2.8 0 1 0 -4.8 0M658.1 745.9a2.4 2.8 0 1 0 4.8 0a2.4 2.8 0 1 0 -4.8 0M660.5 746.7a2.4 2.8 0 1 0 4.8 0a2.4 2.8 0 1 0 -4.8 0M661.3 749.9a2.4 2.8 0 1 0 4.8 0a2.4 2.8 0 1 0 -4.8 0M663.7 751.5a2.4 2.8 0 1 0 4.8 0a2.4 2.8 0 1 0 -4.8 0M665.3 753.8a2.4 2.8 0 1 0 4.8 0a2.4 2.8 0 1 0 -4.8 0M666.9 752.2a2.4 2.8 0 1 0 4.8 0a2.4 2.8 0 1 0 -4.8 0M667.7 755.4a2.4 2.8 0 1 0 4.8 0a2.4 2.8 0 1 0 -4.8 0M668.5 757a2.4 2.8 0 1 0 4.8 0a2.4 2.8 0 1 0 -4.8 0M669.3 760.2a2.4 2.8 0 1 0 4.8 0a2.4 2.8 0 1 0 -4.8 0M670.1 761.8a2.4 2.8 0 1 0 4.8 0a2.4 2.8 0 1 0 -4.8 0M671.7 758.6a2.4 2.8 0 1 0 4.8 0a2.4 2.8 0 1 0 -4.8 0M673.3 757.8a2.4 2.8 0 1 0 4.8 0a2.4 2.8 0 1 0 -4.8 0M668.5 761.8a2.4 2.8 0 1 0 4.8 0a2.4 2.8 0 1 0 -4.8 0M679.7 764.2a2.4 2.8 0 1 0 4.8 0a2.4 2.8 0 1 0 -4.8 0M680.5 769.8a2.4 2.8 0 1 0 4.8 0a2.4 2.8 0 1 0 -4.8 0M681.2 776.2a2.4 2.8 0 1 0 4.8 0a2.4 2.8 0 1 0 -4.8 0M686 771.4a2.4 2.8 0 1 0 4.8 0a2.4 2.8 0 1 0 -4.8 0M687.6 772.2a2.4 2.8 0 1 0 4.8 0a2.4 2.8 0 1 0 -4.8 0M689.2 778.6a2.4 2.8 0 1 0 4.8 0a2.4 2.8 0 1 0 -4.8 0M694 778.6a2.4 2.8 0 1 0 4.8 0a2.4 2.8 0 1 0 -4.8 0M705.2 779.4a2.4 2.8 0 1 0 4.8 0a2.4 2.8 0 1 0 -4.8 0M686 737.9a2.4 2.8 0 1 0 4.8 0a2.4 2.8 0 1 0 -4.8 0M694.8 730.7a2.4 2.8 0 1 0 4.8 0a2.4 2.8 0 1 0 -4.8 0M636.3 687.7a2.4 2.8 0 1 0 4.8 0a2.4 2.8 0 1 0 -4.8 0M593.5 668.5a2.4 2.8 0 1 0 4.8 0a2.4 2.8 0 1 0 -4.8 0M580.8 732.3a2.4 2.8 0 1 0 4.8 0a2.4 2.8 0 1 0 -4.8 0M582.4 733.9a2.4 2.8 0 1 0 4.8 0a2.4 2.8 0 1 0 -4.8 0M584 736.3a2.4 2.8 0 1 0 4.8 0a2.4 2.8 0 1 0 -4.8 0M585.6 737.9a2.4 2.8 0 1 0 4.8 0a2.4 2.8 0 1 0 -4.8 0M587.1 739.5a2.4 2.8 0 1 0 4.8 0a2.4 2.8 0 1 0 -4.8 0M588.7 746.7a2.4 2.8 0 1 0 4.8 0a2.4 2.8 0 1 0 -4.8 0M590.3 740.3a2.4 2.8 0 1 0 4.8 0a2.4 2.8 0 1 0 -4.8 0M592.7 742.7a2.4 2.8 0 1 0 4.8 0a2.4 2.8 0 1 0 -4.8 0M595.1 744.3a2.4 2.8 0 1 0 4.8 0a2.4 2.8 0 1 0 -4.8 0M595.9 746.7a2.4 2.8 0 1 0 4.8 0a2.4 2.8 0 1 0 -4.8 0M597.5 748.3a2.4 2.8 0 1 0 4.8 0a2.4 2.8 0 1 0 -4.8 0M601.5 750.7a2.4 2.8 0 1 0 4.8 0a2.4 2.8 0 1 0 -4.8 0M602.3 753a2.4 2.8 0 1 0 4.8 0a2.4 2.8 0 1 0 -4.8 0M603.1 756.2a2.4 2.8 0 1 0 4.8 0a2.4 2.8 0 1 0 -4.8 0M603.9 757.8a2.4 2.8 0 1 0 4.8 0a2.4 2.8 0 1 0 -4.8 0M604.7 760.2a2.4 2.8 0 1 0 4.8 0a2.4 2.8 0 1 0 -4.8 0M601.5 763.4a2.4 2.8 0 1 0 4.8 0a2.4 2.8 0 1 0 -4.8 0M606.3 761.8a2.4 2.8 0 1 0 4.8 0a2.4 2.8 0 1 0 -4.8 0M607.9 761a2.4 2.8 0 1 0 4.8 0a2.4 2.8 0 1 0 -4.8 0M609.5 760.2a2.4 2.8 0 1 0 4.8 0a2.4 2.8 0 1 0 -4.8 0M611.1 761.8a2.4 2.8 0 1 0 4.8 0a2.4 2.8 0 1 0 -4.8 0M612.7 761a2.4 2.8 0 1 0 4.8 0a2.4 2.8 0 1 0 -4.8 0M613.5 763.4a2.4 2.8 0 1 0 4.8 0a2.4 2.8 0 1 0 -4.8 0M614.3 765.8a2.4 2.8 0 1 0 4.8 0a2.4 2.8 0 1 0 -4.8 0M606.3 765.8a2.4 2.8 0 1 0 4.8 0a2.4 2.8 0 1 0 -4.8 0M608.7 770.6a2.4 2.8 0 1 0 4.8 0a2.4 2.8 0 1 0 -4.8 0M611.9 773a2.4 2.8 0 1 0 4.8 0a2.4 2.8 0 1 0 -4.8 0M615.9 769.8a2.4 2.8 0 1 0 4.8 0a2.4 2.8 0 1 0 -4.8 0M617.5 771.4a2.4 2.8 0 1 0 4.8 0a2.4 2.8 0 1 0 -4.8 0M621.4 771.4a2.4 2.8 0 1 0 4.8 0a2.4 2.8 0 1 0 -4.8 0M623 773a2.4 2.8 0 1 0 4.8 0a2.4 2.8 0 1 0 -4.8 0M623.8 774.6a2.4 2.8 0 1 0 4.8 0a2.4 2.8 0 1 0 -4.8 0M625.4 777a2.4 2.8 0 1 0 4.8 0a2.4 2.8 0 1 0 -4.8 0M630.2 779.4a2.4 2.8 0 1 0 4.8 0a2.4 2.8 0 1 0 -4.8 0M641.1 770.1a2.4 2.8 0 1 0 4.8 0a2.4 2.8 0 1 0 -4.8 0M603.9 733.1a2.4 2.8 0 1 0 4.8 0a2.4 2.8 0 1 0 -4.8 0M627.8 786.4a2.4 2.8 0 1 0 4.8 0a2.4 2.8 0 1 0 -4.8 0M629.4 781.6a2.4 2.8 0 1 0 4.8 0a2.4 2.8 0 1 0 -4.8 0M632.6 783.2a2.4 2.8 0 1 0 4.8 0a2.4 2.8 0 1 0 -4.8 0M634.2 784.8a2.4 2.8 0 1 0 4.8 0a2.4 2.8 0 1 0 -4.8 0M635.8 787.2a2.4 2.8 0 1 0 4.8 0a2.4 2.8 0 1 0 -4.8 0M637.4 789.6a2.4 2.8 0 1 0 4.8 0a2.4 2.8 0 1 0 -4.8 0M639 792a2.4 2.8 0 1 0 4.8 0a2.4 2.8 0 1 0 -4.8 0M640.6 793.6a2.4 2.8 0 1 0 4.8 0a2.4 2.8 0 1 0 -4.8 0M641.4 791.2a2.4 2.8 0 1 0 4.8 0a2.4 2.8 0 1 0 -4.8 0M639.8 802.3a2.4 2.8 0 1 0 4.8 0a2.4 2.8 0 1 0 -4.8 0M642.2 803.9a2.4 2.8 0 1 0 4.8 0a2.4 2.8 0 1 0 -4.8 0M648.6 804.7a2.4 2.8 0 1 0 4.8 0a2.4 2.8 0 1 0 -4.8 0M650.1 803.1a2.4 2.8 0 1 0 4.8 0a2.4 2.8 0 1 0 -4.8 0M651.7 801.5a2.4 2.8 0 1 0 4.8 0a2.4 2.8 0 1 0 -4.8 0M653.3 803.1a2.4 2.8 0 1 0 4.8 0a2.4 2.8 0 1 0 -4.8 0M658.9 800.4a2.4 2.8 0 1 0 4.8 0a2.4 2.8 0 1 0 -4.8 0M652.5 816.4a2.4 2.8 0 1 0 4.8 0a2.4 2.8 0 1 0 -4.8 0M657.3 809.5a2.4 2.8 0 1 0 4.8 0a2.4 2.8 0 1 0 -4.8 0M660.5 811.9a2.4 2.8 0 1 0 4.8 0a2.4 2.8 0 1 0 -4.8 0M662.9 814.3a2.4 2.8 0 1 0 4.8 0a2.4 2.8 0 1 0 -4.8 0M672.5 823.1a2.4 2.8 0 1 0 4.8 0a2.4 2.8 0 1 0 -4.8 0M672.5 830.2a2.4 2.8 0 1 0 4.8 0a2.4 2.8 0 1 0 -4.8 0M677.3 831.8a2.4 2.8 0 1 0 4.8 0a2.4 2.8 0 1 0 -4.8 0M680.5 828.6a2.4 2.8 0 1 0 4.8 0a2.4 2.8 0 1 0 -4.8 0M690 842.2a2.4 2.8 0 1 0 4.8 0a2.4 2.8 0 1 0 -4.8 0M702 851a2.4 2.8 0 1 0 4.8 0a2.4 2.8 0 1 0 -4.8 0M701.2 861.7a2.4 2.8 0 1 0 4.8 0a2.4 2.8 0 1 0 -4.8 0M705.2 860.5a2.4 2.8 0 1 0 4.8 0a2.4 2.8 0 1 0 -4.8 0M706.8 862.9a2.4 2.8 0 1 0 4.8 0a2.4 2.8 0 1 0 -4.8 0M705.2 867.7a2.4 2.8 0 1 0 4.8 0a2.4 2.8 0 1 0 -4.8 0M713.1 866.1a2.4 2.8 0 1 0 4.8 0a2.4 2.8 0 1 0 -4.8 0M714.7 869.3a2.4 2.8 0 1 0 4.8 0a2.4 2.8 0 1 0 -4.8 0M716.3 872.5a2.4 2.8 0 1 0 4.8 0a2.4 2.8 0 1 0 -4.8 0M717.9 875.7a2.4 2.8 0 1 0 4.8 0a2.4 2.8 0 1 0 -4.8 0M719.5 874.1a2.4 2.8 0 1 0 4.8 0a2.4 2.8 0 1 0 -4.8 0M721.1 872.5a2.4 2.8 0 1 0 4.8 0a2.4 2.8 0 1 0 -4.8 0M723.5 874.1a2.4 2.8 0 1 0 4.8 0a2.4 2.8 0 1 0 -4.8 0M725.1 875.7a2.4 2.8 0 1 0 4.8 0a2.4 2.8 0 1 0 -4.8 0M725.9 878.9a2.4 2.8 0 1 0 4.8 0a2.4 2.8 0 1 0 -4.8 0M726.7 882.1a2.4 2.8 0 1 0 4.8 0a2.4 2.8 0 1 0 -4.8 0M728.3 883.7a2.4 2.8 0 1 0 4.8 0a2.4 2.8 0 1 0 -4.8 0M725.9 888.5a2.4 2.8 0 1 0 4.8 0a2.4 2.8 0 1 0 -4.8 0M726.7 890a2.4 2.8 0 1 0 4.8 0a2.4 2.8 0 1 0 -4.8 0M710.8 895.2a2.4 2.8 0 1 0 4.8 0a2.4 2.8 0 1 0 -4.8 0M737.1 890a2.4 2.8 0 1 0 4.8 0a2.4 2.8 0 1 0 -4.8 0M738.7 893.2a2.4 2.8 0 1 0 4.8 0a2.4 2.8 0 1 0 -4.8 0M740.3 894.8a2.4 2.8 0 1 0 4.8 0a2.4 2.8 0 1 0 -4.8 0M737.9 895.6a2.4 2.8 0 1 0 4.8 0a2.4 2.8 0 1 0 -4.8 0M741.9 898a2.4 2.8 0 1 0 4.8 0a2.4 2.8 0 1 0 -4.8 0M744.2 898a2.4 2.8 0 1 0 4.8 0a2.4 2.8 0 1 0 -4.8 0M745 882.9a2.4 2.8 0 1 0 4.8 0a2.4 2.8 0 1 0 -4.8 0M742.7 907.6a2.4 2.8 0 1 0 4.8 0a2.4 2.8 0 1 0 -4.8 0M753.8 902.5a2.4 2.8 0 1 0 4.8 0a2.4 2.8 0 1 0 -4.8 0M755.9 907.6a2.4 2.8 0 1 0 4.8 0a2.4 2.8 0 1 0 -4.8 0M761 914.3a2.4 2.8 0 1 0 4.8 0a2.4 2.8 0 1 0 -4.8 0M765.8 921.9a2.4 2.8 0 1 0 4.8 0a2.4 2.8 0 1 0 -4.8 0M768.2 923.5a2.4 2.8 0 1 0 4.8 0a2.4 2.8 0 1 0 -4.8 0M776.1 931.5a2.4 2.8 0 1 0 4.8 0a2.4 2.8 0 1 0 -4.8 0M776.9 933.9a2.4 2.8 0 1 0 4.8 0a2.4 2.8 0 1 0 -4.8 0M687.6 780.8a2.4 2.8 0 1 0 4.8 0a2.4 2.8 0 1 0 -4.8 0M690.8 781.6a2.4 2.8 0 1 0 4.8 0a2.4 2.8 0 1 0 -4.8 0M694 782.4a2.4 2.8 0 1 0 4.8 0a2.4 2.8 0 1 0 -4.8 0M696.4 784a2.4 2.8 0 1 0 4.8 0a2.4 2.8 0 1 0 -4.8 0M698.8 785.6a2.4 2.8 0 1 0 4.8 0a2.4 2.8 0 1 0 -4.8 0M699.6 787.2a2.4 2.8 0 1 0 4.8 0a2.4 2.8 0 1 0 -4.8 0M704.4 781.6a2.4 2.8 0 1 0 4.8 0a2.4 2.8 0 1 0 -4.8 0M703.6 789.6a2.4 2.8 0 1 0 4.8 0a2.4 2.8 0 1 0 -4.8 0M705.2 791.2a2.4 2.8 0 1 0 4.8 0a2.4 2.8 0 1 0 -4.8 0M706.8 792.8a2.4 2.8 0 1 0 4.8 0a2.4 2.8 0 1 0 -4.8 0M708.4 794.4a2.4 2.8 0 1 0 4.8 0a2.4 2.8 0 1 0 -4.8 0M711.6 803.9a2.4 2.8 0 1 0 4.8 0a2.4 2.8 0 1 0 -4.8 0M714.7 803.1a2.4 2.8 0 1 0 4.8 0a2.4 2.8 0 1 0 -4.8 0M717.9 813.5a2.4 2.8 0 1 0 4.8 0a2.4 2.8 0 1 0 -4.8 0M719.5 818.3a2.4 2.8 0 1 0 4.8 0a2.4 2.8 0 1 0 -4.8 0M721.1 808.7a2.4 2.8 0 1 0 4.8 0a2.4 2.8 0 1 0 -4.8 0M722.7 807.9a2.4 2.8 0 1 0 4.8 0a2.4 2.8 0 1 0 -4.8 0M725.9 812.7a2.4 2.8 0 1 0 4.8 0a2.4 2.8 0 1 0 -4.8 0M725.9 819.1a2.4 2.8 0 1 0 4.8 0a2.4 2.8 0 1 0 -4.8 0M730.7 817.5a2.4 2.8 0 1 0 4.8 0a2.4 2.8 0 1 0 -4.8 0M733.1 818.3a2.4 2.8 0 1 0 4.8 0a2.4 2.8 0 1 0 -4.8 0M734.7 819.9a2.4 2.8 0 1 0 4.8 0a2.4 2.8 0 1 0 -4.8 0M737.1 821.1a2.4 2.8 0 1 0 4.8 0a2.4 2.8 0 1 0 -4.8 0M738.7 826.3a2.4 2.8 0 1 0 4.8 0a2.4 2.8 0 1 0 -4.8 0M739.5 831a2.4 2.8 0 1 0 4.8 0a2.4 2.8 0 1 0 -4.8 0M741.1 827.8a2.4 2.8 0 1 0 4.8 0a2.4 2.8 0 1 0 -4.8 0M741.9 827a2.4 2.8 0 1 0 4.8 0a2.4 2.8 0 1 0 -4.8 0M746.6 834.2a2.4 2.8 0 1 0 4.8 0a2.4 2.8 0 1 0 -4.8 0M749 835.8a2.4 2.8 0 1 0 4.8 0a2.4 2.8 0 1 0 -4.8 0M750.6 840.6a2.4 2.8 0 1 0 4.8 0a2.4 2.8 0 1 0 -4.8 0M750.1 848.3a2.4 2.8 0 1 0 4.8 0a2.4 2.8 0 1 0 -4.8 0M743.4 780a2.4 2.8 0 1 0 4.8 0a2.4 2.8 0 1 0 -4.8 0M749.8 780a2.4 2.8 0 1 0 4.8 0a2.4 2.8 0 1 0 -4.8 0M756.2 780.8a2.4 2.8 0 1 0 4.8 0a2.4 2.8 0 1 0 -4.8 0M759.4 782.4a2.4 2.8 0 1 0 4.8 0a2.4 2.8 0 1 0 -4.8 0M761.8 784.8a2.4 2.8 0 1 0 4.8 0a2.4 2.8 0 1 0 -4.8 0M764.2 786.4a2.4 2.8 0 1 0 4.8 0a2.4 2.8 0 1 0 -4.8 0M765.8 787.2a2.4 2.8 0 1 0 4.8 0a2.4 2.8 0 1 0 -4.8 0M760.2 789.6a2.4 2.8 0 1 0 4.8 0a2.4 2.8 0 1 0 -4.8 0M761.8 795.5a2.4 2.8 0 1 0 4.8 0a2.4 2.8 0 1 0 -4.8 0M773.8 795.6a2.4 2.8 0 1 0 4.8 0a2.4 2.8 0 1 0 -4.8 0M776.1 797.5a2.4 2.8 0 1 0 4.8 0a2.4 2.8 0 1 0 -4.8 0M765 855.8a2.4 2.8 0 1 0 4.8 0a2.4 2.8 0 1 0 -4.8 0M768.2 855.8a2.4 2.8 0 1 0 4.8 0a2.4 2.8 0 1 0 -4.8 0M770.6 858.1a2.4 2.8 0 1 0 4.8 0a2.4 2.8 0 1 0 -4.8 0M772.2 860.5a2.4 2.8 0 1 0 4.8 0a2.4 2.8 0 1 0 -4.8 0M774.5 862.9a2.4 2.8 0 1 0 4.8 0a2.4 2.8 0 1 0 -4.8 0M776.9 862.1a2.4 2.8 0 1 0 4.8 0a2.4 2.8 0 1 0 -4.8 0M770.6 867.7a2.4 2.8 0 1 0 4.8 0a2.4 2.8 0 1 0 -4.8 0M770.6 872.5a2.4 2.8 0 1 0 4.8 0a2.4 2.8 0 1 0 -4.8 0M771.4 864.5a2.4 2.8 0 1 0 4.8 0a2.4 2.8 0 1 0 -4.8 0M778.4 795.9a2.4 2.8 0 1 0 4.8 0a2.4 2.8 0 1 0 -4.8 0M779.2 799.1a2.4 2.8 0 1 0 4.8 0a2.4 2.8 0 1 0 -4.8 0M784.8 806.3a2.4 2.8 0 1 0 4.8 0a2.4 2.8 0 1 0 -4.8 0M787.1 807.9a2.4 2.8 0 1 0 4.8 0a2.4 2.8 0 1 0 -4.8 0M789.5 807.9a2.4 2.8 0 1 0 4.8 0a2.4 2.8 0 1 0 -4.8 0M792.7 814.3a2.4 2.8 0 1 0 4.8 0a2.4 2.8 0 1 0 -4.8 0M796.7 817.5a2.4 2.8 0 1 0 4.8 0a2.4 2.8 0 1 0 -4.8 0M801.5 824.7a2.4 2.8 0 1 0 4.8 0a2.4 2.8 0 1 0 -4.8 0M805.5 827a2.4 2.8 0 1 0 4.8 0a2.4 2.8 0 1 0 -4.8 0M806.3 830.2a2.4 2.8 0 1 0 4.8 0a2.4 2.8 0 1 0 -4.8 0M807.9 831.8a2.4 2.8 0 1 0 4.8 0a2.4 2.8 0 1 0 -4.8 0M809.5 833.4a2.4 2.8 0 1 0 4.8 0a2.4 2.8 0 1 0 -4.8 0M811.1 835.8a2.4 2.8 0 1 0 4.8 0a2.4 2.8 0 1 0 -4.8 0M813.5 835a2.4 2.8 0 1 0 4.8 0a2.4 2.8 0 1 0 -4.8 0M814.3 839.8a2.4 2.8 0 1 0 4.8 0a2.4 2.8 0 1 0 -4.8 0M811.1 842.2a2.4 2.8 0 1 0 4.8 0a2.4 2.8 0 1 0 -4.8 0M815.9 845.4a2.4 2.8 0 1 0 4.8 0a2.4 2.8 0 1 0 -4.8 0M818.2 848.6a2.4 2.8 0 1 0 4.8 0a2.4 2.8 0 1 0 -4.8 0M823 843.8a2.4 2.8 0 1 0 4.8 0a2.4 2.8 0 1 0 -4.8 0M823.8 850.2a2.4 2.8 0 1 0 4.8 0a2.4 2.8 0 1 0 -4.8 0M825.4 851.8a2.4 2.8 0 1 0 4.8 0a2.4 2.8 0 1 0 -4.8 0M823.8 854.2a2.4 2.8 0 1 0 4.8 0a2.4 2.8 0 1 0 -4.8 0M835 856.6a2.4 2.8 0 1 0 4.8 0a2.4 2.8 0 1 0 -4.8 0M833.4 859.7a2.4 2.8 0 1 0 4.8 0a2.4 2.8 0 1 0 -4.8 0M831.8 862.9a2.4 2.8 0 1 0 4.8 0a2.4 2.8 0 1 0 -4.8 0M835 869.3a2.4 2.8 0 1 0 4.8 0a2.4 2.8 0 1 0 -4.8 0M839.8 874.1a2.4 2.8 0 1 0 4.8 0a2.4 2.8 0 1 0 -4.8 0M842.2 873.3a2.4 2.8 0 1 0 4.8 0a2.4 2.8 0 1 0 -4.8 0M854.9 877.3a2.4 2.8 0 1 0 4.8 0a2.4 2.8 0 1 0 -4.8 0M860.5 884.5a2.4 2.8 0 1 0 4.8 0a2.4 2.8 0 1 0 -4.8 0M862.9 886.1a2.4 2.8 0 1 0 4.8 0a2.4 2.8 0 1 0 -4.8 0M866.1 890a2.4 2.8 0 1 0 4.8 0a2.4 2.8 0 1 0 -4.8 0M868.5 892.4a2.4 2.8 0 1 0 4.8 0a2.4 2.8 0 1 0 -4.8 0M870.1 891.6a2.4 2.8 0 1 0 4.8 0a2.4 2.8 0 1 0 -4.8 0M874.1 898.8a2.4 2.8 0 1 0 4.8 0a2.4 2.8 0 1 0 -4.8 0M890.5 912.4a2.4 2.8 0 1 0 4.8 0a2.4 2.8 0 1 0 -4.8 0M891.1 916.4a2.4 2.8 0 1 0 4.8 0a2.4 2.8 0 1 0 -4.8 0M891.6 926.7a2.4 2.8 0 1 0 4.8 0a2.4 2.8 0 1 0 -4.8 0M881.2 923.5a2.4 2.8 0 1 0 4.8 0a2.4 2.8 0 1 0 -4.8 0M903.6 924.3a2.4 2.8 0 1 0 4.8 0a2.4 2.8 0 1 0 -4.8 0M905.2 927.5a2.4 2.8 0 1 0 4.8 0a2.4 2.8 0 1 0 -4.8 0M906.8 930.7a2.4 2.8 0 1 0 4.8 0a2.4 2.8 0 1 0 -4.8 0M908.4 933.1a2.4 2.8 0 1 0 4.8 0a2.4 2.8 0 1 0 -4.8 0M914.7 939.5a2.4 2.8 0 1 0 4.8 0a2.4 2.8 0 1 0 -4.8 0M915.5 941.9a2.4 2.8 0 1 0 4.8 0a2.4 2.8 0 1 0 -4.8 0M913.1 946.7a2.4 2.8 0 1 0 4.8 0a2.4 2.8 0 1 0 -4.8 0M919.5 947.5a2.4 2.8 0 1 0 4.8 0a2.4 2.8 0 1 0 -4.8 0M921.9 949.1a2.4 2.8 0 1 0 4.8 0a2.4 2.8 0 1 0 -4.8 0M923.5 950.7a2.4 2.8 0 1 0 4.8 0a2.4 2.8 0 1 0 -4.8 0M924.3 957a2.4 2.8 0 1 0 4.8 0a2.4 2.8 0 1 0 -4.8 0M925.1 960.2a2.4 2.8 0 1 0 4.8 0a2.4 2.8 0 1 0 -4.8 0M930.7 956.2a2.4 2.8 0 1 0 4.8 0a2.4 2.8 0 1 0 -4.8 0M930.7 964.2a2.4 2.8 0 1 0 4.8 0a2.4 2.8 0 1 0 -4.8 0M937.1 962.6a2.4 2.8 0 1 0 4.8 0a2.4 2.8 0 1 0 -4.8 0M938.7 965.8a2.4 2.8 0 1 0 4.8 0a2.4 2.8 0 1 0 -4.8 0M939.5 968.2a2.4 2.8 0 1 0 4.8 0a2.4 2.8 0 1 0 -4.8 0M936.3 968.2a2.4 2.8 0 1 0 4.8 0a2.4 2.8 0 1 0 -4.8 0M937.1 973a2.4 2.8 0 1 0 4.8 0a2.4 2.8 0 1 0 -4.8 0M941.1 974.6a2.4 2.8 0 1 0 4.8 0a2.4 2.8 0 1 0 -4.8 0M945.8 970.6a2.4 2.8 0 1 0 4.8 0a2.4 2.8 0 1 0 -4.8 0M948.2 973.8a2.4 2.8 0 1 0 4.8 0a2.4 2.8 0 1 0 -4.8 0M949.8 975.4a2.4 2.8 0 1 0 4.8 0a2.4 2.8 0 1 0 -4.8 0M953 976.2a2.4 2.8 0 1 0 4.8 0a2.4 2.8 0 1 0 -4.8 0M777.6 859.7a2.4 2.8 0 1 0 4.8 0a2.4 2.8 0 1 0 -4.8 0M780 866.1a2.4 2.8 0 1 0 4.8 0a2.4 2.8 0 1 0 -4.8 0M782.4 871.7a2.4 2.8 0 1 0 4.8 0a2.4 2.8 0 1 0 -4.8 0M787.1 876.5a2.4 2.8 0 1 0 4.8 0a2.4 2.8 0 1 0 -4.8 0M797.5 884.9a2.4 2.8 0 1 0 4.8 0a2.4 2.8 0 1 0 -4.8 0M798.3 896.1a2.4 2.8 0 1 0 4.8 0a2.4 2.8 0 1 0 -4.8 0M806.3 890.8a2.4 2.8 0 1 0 4.8 0a2.4 2.8 0 1 0 -4.8 0M807.9 894.8a2.4 2.8 0 1 0 4.8 0a2.4 2.8 0 1 0 -4.8 0M807.1 893.2a2.4 2.8 0 1 0 4.8 0a2.4 2.8 0 1 0 -4.8 0M814.3 903.6a2.4 2.8 0 1 0 4.8 0a2.4 2.8 0 1 0 -4.8 0M818.7 902a2.4 2.8 0 1 0 4.8 0a2.4 2.8 0 1 0 -4.8 0M817.5 909.2a2.4 2.8 0 1 0 4.8 0a2.4 2.8 0 1 0 -4.8 0M819.8 907.6a2.4 2.8 0 1 0 4.8 0a2.4 2.8 0 1 0 -4.8 0M822.2 909.2a2.4 2.8 0 1 0 4.8 0a2.4 2.8 0 1 0 -4.8 0M823.8 914a2.4 2.8 0 1 0 4.8 0a2.4 2.8 0 1 0 -4.8 0M824.6 921.1a2.4 2.8 0 1 0 4.8 0a2.4 2.8 0 1 0 -4.8 0M828.6 915.6a2.4 2.8 0 1 0 4.8 0a2.4 2.8 0 1 0 -4.8 0M830.2 917.2a2.4 2.8 0 1 0 4.8 0a2.4 2.8 0 1 0 -4.8 0M831.8 918.8a2.4 2.8 0 1 0 4.8 0a2.4 2.8 0 1 0 -4.8 0M834.2 920.4a2.4 2.8 0 1 0 4.8 0a2.4 2.8 0 1 0 -4.8 0M835.8 921.9a2.4 2.8 0 1 0 4.8 0a2.4 2.8 0 1 0 -4.8 0M836.6 923.5a2.4 2.8 0 1 0 4.8 0a2.4 2.8 0 1 0 -4.8 0M831 929.1a2.4 2.8 0 1 0 4.8 0a2.4 2.8 0 1 0 -4.8 0M839.8 928.3a2.4 2.8 0 1 0 4.8 0a2.4 2.8 0 1 0 -4.8 0M840.6 935.5a2.4 2.8 0 1 0 4.8 0a2.4 2.8 0 1 0 -4.8 0M843 942.7a2.4 2.8 0 1 0 4.8 0a2.4 2.8 0 1 0 -4.8 0M847 933.1a2.4 2.8 0 1 0 4.8 0a2.4 2.8 0 1 0 -4.8 0M845.4 906.3a2.4 2.8 0 1 0 4.8 0a2.4 2.8 0 1 0 -4.8 0M854.1 938.7a2.4 2.8 0 1 0 4.8 0a2.4 2.8 0 1 0 -4.8 0M855.7 945.9a2.4 2.8 0 1 0 4.8 0a2.4 2.8 0 1 0 -4.8 0M858.1 946.7a2.4 2.8 0 1 0 4.8 0a2.4 2.8 0 1 0 -4.8 0M859.7 949.1a2.4 2.8 0 1 0 4.8 0a2.4 2.8 0 1 0 -4.8 0M860.5 952.2a2.4 2.8 0 1 0 4.8 0a2.4 2.8 0 1 0 -4.8 0M862.1 955.4a2.4 2.8 0 1 0 4.8 0a2.4 2.8 0 1 0 -4.8 0M870.1 955.4a2.4 2.8 0 1 0 4.8 0a2.4 2.8 0 1 0 -4.8 0M871.7 958.6a2.4 2.8 0 1 0 4.8 0a2.4 2.8 0 1 0 -4.8 0M873.3 960.2a2.4 2.8 0 1 0 4.8 0a2.4 2.8 0 1 0 -4.8 0M874.9 962.6a2.4 2.8 0 1 0 4.8 0a2.4 2.8 0 1 0 -4.8 0M875.7 959.4a2.4 2.8 0 1 0 4.8 0a2.4 2.8 0 1 0 -4.8 0M878.1 965a2.4 2.8 0 1 0 4.8 0a2.4 2.8 0 1 0 -4.8 0M878.9 967.4a2.4 2.8 0 1 0 4.8 0a2.4 2.8 0 1 0 -4.8 0M875.7 973a2.4 2.8 0 1 0 4.8 0a2.4 2.8 0 1 0 -4.8 0M881.2 972.2a2.4 2.8 0 1 0 4.8 0a2.4 2.8 0 1 0 -4.8 0M883.6 977.8a2.4 2.8 0 1 0 4.8 0a2.4 2.8 0 1 0 -4.8 0M890 975.4a2.4 2.8 0 1 0 4.8 0a2.4 2.8 0 1 0 -4.8 0M892.4 978.6a2.4 2.8 0 1 0 4.8 0a2.4 2.8 0 1 0 -4.8 0M779.2 933.1a2.4 2.8 0 1 0 4.8 0a2.4 2.8 0 1 0 -4.8 0M780.8 934.7a2.4 2.8 0 1 0 4.8 0a2.4 2.8 0 1 0 -4.8 0M791.9 946.7a2.4 2.8 0 1 0 4.8 0a2.4 2.8 0 1 0 -4.8 0M793.5 946.7a2.4 2.8 0 1 0 4.8 0a2.4 2.8 0 1 0 -4.8 0M799.1 951.5a2.4 2.8 0 1 0 4.8 0a2.4 2.8 0 1 0 -4.8 0M799.9 953.8a2.4 2.8 0 1 0 4.8 0a2.4 2.8 0 1 0 -4.8 0M797.5 955.4a2.4 2.8 0 1 0 4.8 0a2.4 2.8 0 1 0 -4.8 0M809.5 962.6a2.4 2.8 0 1 0 4.8 0a2.4 2.8 0 1 0 -4.8 0M813.5 965.8a2.4 2.8 0 1 0 4.8 0a2.4 2.8 0 1 0 -4.8 0M813.5 974.6a2.4 2.8 0 1 0 4.8 0a2.4 2.8 0 1 0 -4.8 0M823.8 975.4a2.4 2.8 0 1 0 4.8 0a2.4 2.8 0 1 0 -4.8 0M825.4 978.6a2.4 2.8 0 1 0 4.8 0a2.4 2.8 0 1 0 -4.8 0M825.4 980.8a2.4 2.8 0 1 0 4.8 0a2.4 2.8 0 1 0 -4.8 0M829.4 984.8a2.4 2.8 0 1 0 4.8 0a2.4 2.8 0 1 0 -4.8 0M831.8 992.8a2.4 2.8 0 1 0 4.8 0a2.4 2.8 0 1 0 -4.8 0M833.4 995.2a2.4 2.8 0 1 0 4.8 0a2.4 2.8 0 1 0 -4.8 0M834.2 996.7a2.4 2.8 0 1 0 4.8 0a2.4 2.8 0 1 0 -4.8 0M836.6 994.4a2.4 2.8 0 1 0 4.8 0a2.4 2.8 0 1 0 -4.8 0M838.2 993.6a2.4 2.8 0 1 0 4.8 0a2.4 2.8 0 1 0 -4.8 0M840.6 995.2a2.4 2.8 0 1 0 4.8 0a2.4 2.8 0 1 0 -4.8 0M841.4 992a2.4 2.8 0 1 0 4.8 0a2.4 2.8 0 1 0 -4.8 0M842.2 989.6a2.4 2.8 0 1 0 4.8 0a2.4 2.8 0 1 0 -4.8 0M843 996.7a2.4 2.8 0 1 0 4.8 0a2.4 2.8 0 1 0 -4.8 0M844.6 995.2a2.4 2.8 0 1 0 4.8 0a2.4 2.8 0 1 0 -4.8 0M846.2 999.9a2.4 2.8 0 1 0 4.8 0a2.4 2.8 0 1 0 -4.8 0M848.6 1002.3a2.4 2.8 0 1 0 4.8 0a2.4 2.8 0 1 0 -4.8 0M850.1 1003.9a2.4 2.8 0 1 0 4.8 0a2.4 2.8 0 1 0 -4.8 0M854.9 1009.5a2.4 2.8 0 1 0 4.8 0a2.4 2.8 0 1 0 -4.8 0M855.7 1018.3a2.4 2.8 0 1 0 4.8 0a2.4 2.8 0 1 0 -4.8 0M859.7 1018.3a2.4 2.8 0 1 0 4.8 0a2.4 2.8 0 1 0 -4.8 0M860.5 1023.9a2.4 2.8 0 1 0 4.8 0a2.4 2.8 0 1 0 -4.8 0M862.1 1016.7a2.4 2.8 0 1 0 4.8 0a2.4 2.8 0 1 0 -4.8 0M863.7 1015.9a2.4 2.8 0 1 0 4.8 0a2.4 2.8 0 1 0 -4.8 0M864.5 1019.9a2.4 2.8 0 1 0 4.8 0a2.4 2.8 0 1 0 -4.8 0M866.1 1033.4a2.4 2.8 0 1 0 4.8 0a2.4 2.8 0 1 0 -4.8 0M870.1 1020.7a2.4 2.8 0 1 0 4.8 0a2.4 2.8 0 1 0 -4.8 0M872.5 1023.1a2.4 2.8 0 1 0 4.8 0a2.4 2.8 0 1 0 -4.8 0M873.3 1026.3a2.4 2.8 0 1 0 4.8 0a2.4 2.8 0 1 0 -4.8 0M874.9 1028.6a2.4 2.8 0 1 0 4.8 0a2.4 2.8 0 1 0 -4.8 0M875.7 1031a2.4 2.8 0 1 0 4.8 0a2.4 2.8 0 1 0 -4.8 0M882.8 1036.6a2.4 2.8 0 1 0 4.8 0a2.4 2.8 0 1 0 -4.8 0M884.4 1039a2.4 2.8 0 1 0 4.8 0a2.4 2.8 0 1 0 -4.8 0M882.8 1043.8a2.4 2.8 0 1 0 4.8 0a2.4 2.8 0 1 0 -4.8 0M887.6 1041.4a2.4 2.8 0 1 0 4.8 0a2.4 2.8 0 1 0 -4.8 0M889.2 1045.4a2.4 2.8 0 1 0 4.8 0a2.4 2.8 0 1 0 -4.8 0M885.2 1052.6a2.4 2.8 0 1 0 4.8 0a2.4 2.8 0 1 0 -4.8 0M890.8 1051.8a2.4 2.8 0 1 0 4.8 0a2.4 2.8 0 1 0 -4.8 0M891.6 1048.6a2.4 2.8 0 1 0 4.8 0a2.4 2.8 0 1 0 -4.8 0M894 1051a2.4 2.8 0 1 0 4.8 0a2.4 2.8 0 1 0 -4.8 0M895.6 1053.4a2.4 2.8 0 1 0 4.8 0a2.4 2.8 0 1 0 -4.8 0M898 1055a2.4 2.8 0 1 0 4.8 0a2.4 2.8 0 1 0 -4.8 0M899.6 1058.1a2.4 2.8 0 1 0 4.8 0a2.4 2.8 0 1 0 -4.8 0M900.1 1040.6a2.4 2.8 0 1 0 4.8 0a2.4 2.8 0 1 0 -4.8 0M907.1 1057.4a2.4 2.8 0 1 0 4.8 0a2.4 2.8 0 1 0 -4.8 0M903.6 1070.9a2.4 2.8 0 1 0 4.8 0a2.4 2.8 0 1 0 -4.8 0M909.2 1066.9a2.4 2.8 0 1 0 4.8 0a2.4 2.8 0 1 0 -4.8 0M910 1069.3a2.4 2.8 0 1 0 4.8 0a2.4 2.8 0 1 0 -4.8 0M912.3 1067.7a2.4 2.8 0 1 0 4.8 0a2.4 2.8 0 1 0 -4.8 0M914.7 1070.1a2.4 2.8 0 1 0 4.8 0a2.4 2.8 0 1 0 -4.8 0M916.3 1071.7a2.4 2.8 0 1 0 4.8 0a2.4 2.8 0 1 0 -4.8 0M908.4 1073.3a2.4 2.8 0 1 0 4.8 0a2.4 2.8 0 1 0 -4.8 0M919.5 1074.1a2.4 2.8 0 1 0 4.8 0a2.4 2.8 0 1 0 -4.8 0M921.1 1075.7a2.4 2.8 0 1 0 4.8 0a2.4 2.8 0 1 0 -4.8 0M922.7 1076.5a2.4 2.8 0 1 0 4.8 0a2.4 2.8 0 1 0 -4.8 0M923.5 1079.7a2.4 2.8 0 1 0 4.8 0a2.4 2.8 0 1 0 -4.8 0M925.1 1082.1a2.4 2.8 0 1 0 4.8 0a2.4 2.8 0 1 0 -4.8 0M929.9 1083.7a2.4 2.8 0 1 0 4.8 0a2.4 2.8 0 1 0 -4.8 0M931.5 1086.1a2.4 2.8 0 1 0 4.8 0a2.4 2.8 0 1 0 -4.8 0M933.9 1090a2.4 2.8 0 1 0 4.8 0a2.4 2.8 0 1 0 -4.8 0M937.1 1094a2.4 2.8 0 1 0 4.8 0a2.4 2.8 0 1 0 -4.8 0M938.7 1094.8a2.4 2.8 0 1 0 4.8 0a2.4 2.8 0 1 0 -4.8 0M932.3 1099.3a2.4 2.8 0 1 0 4.8 0a2.4 2.8 0 1 0 -4.8 0M937.1 1102.5a2.4 2.8 0 1 0 4.8 0a2.4 2.8 0 1 0 -4.8 0M943.4 1098.8a2.4 2.8 0 1 0 4.8 0a2.4 2.8 0 1 0 -4.8 0M945 1101.2a2.4 2.8 0 1 0 4.8 0a2.4 2.8 0 1 0 -4.8 0M946.6 1102.8a2.4 2.8 0 1 0 4.8 0a2.4 2.8 0 1 0 -4.8 0M949 1104.4a2.4 2.8 0 1 0 4.8 0a2.4 2.8 0 1 0 -4.8 0M952.2 1106a2.4 2.8 0 1 0 4.8 0a2.4 2.8 0 1 0 -4.8 0M953 1107.6a2.4 2.8 0 1 0 4.8 0a2.4 2.8 0 1 0 -4.8 0M947.4 1112.4a2.4 2.8 0 1 0 4.8 0a2.4 2.8 0 1 0 -4.8 0M950.6 1118.8a2.4 2.8 0 1 0 4.8 0a2.4 2.8 0 1 0 -4.8 0M957.8 1108.4a2.4 2.8 0 1 0 4.8 0a2.4 2.8 0 1 0 -4.8 0M959.4 1117.2a2.4 2.8 0 1 0 4.8 0a2.4 2.8 0 1 0 -4.8 0M961 1115.6a2.4 2.8 0 1 0 4.8 0a2.4 2.8 0 1 0 -4.8 0M962.6 1118.8a2.4 2.8 0 1 0 4.8 0a2.4 2.8 0 1 0 -4.8 0M964.2 1117.2a2.4 2.8 0 1 0 4.8 0a2.4 2.8 0 1 0 -4.8 0M959.4 1121.9a2.4 2.8 0 1 0 4.8 0a2.4 2.8 0 1 0 -4.8 0M964.2 1129.1a2.4 2.8 0 1 0 4.8 0a2.4 2.8 0 1 0 -4.8 0M967.4 1121.9a2.4 2.8 0 1 0 4.8 0a2.4 2.8 0 1 0 -4.8 0M969 1123.5a2.4 2.8 0 1 0 4.8 0a2.4 2.8 0 1 0 -4.8 0M971.4 1125.1a2.4 2.8 0 1 0 4.8 0a2.4 2.8 0 1 0 -4.8 0M975.3 1121.9a2.4 2.8 0 1 0 4.8 0a2.4 2.8 0 1 0 -4.8 0M972.2 1131.5a2.4 2.8 0 1 0 4.8 0a2.4 2.8 0 1 0 -4.8 0M973.8 1133.1a2.4 2.8 0 1 0 4.8 0a2.4 2.8 0 1 0 -4.8 0M906 1096.9a2.4 2.8 0 1 0 4.8 0a2.4 2.8 0 1 0 -4.8 0M948.6 1145.6a2.4 2.8 0 1 0 4.8 0a2.4 2.8 0 1 0 -4.8 0M976.1 1159.4a2.4 2.8 0 1 0 4.8 0a2.4 2.8 0 1 0 -4.8 0M882.8 980a2.4 2.8 0 1 0 4.8 0a2.4 2.8 0 1 0 -4.8 0M890.8 981.6a2.4 2.8 0 1 0 4.8 0a2.4 2.8 0 1 0 -4.8 0M894.8 984.8a2.4 2.8 0 1 0 4.8 0a2.4 2.8 0 1 0 -4.8 0M895.6 992a2.4 2.8 0 1 0 4.8 0a2.4 2.8 0 1 0 -4.8 0M898.8 988a2.4 2.8 0 1 0 4.8 0a2.4 2.8 0 1 0 -4.8 0M900.4 989.6a2.4 2.8 0 1 0 4.8 0a2.4 2.8 0 1 0 -4.8 0M902.8 999.9a2.4 2.8 0 1 0 4.8 0a2.4 2.8 0 1 0 -4.8 0M905.2 996.7a2.4 2.8 0 1 0 4.8 0a2.4 2.8 0 1 0 -4.8 0M907.6 995.9a2.4 2.8 0 1 0 4.8 0a2.4 2.8 0 1 0 -4.8 0M910 999.1a2.4 2.8 0 1 0 4.8 0a2.4 2.8 0 1 0 -4.8 0M909.2 1003.1a2.4 2.8 0 1 0 4.8 0a2.4 2.8 0 1 0 -4.8 0M913.1 999.9a2.4 2.8 0 1 0 4.8 0a2.4 2.8 0 1 0 -4.8 0M917.1 1004.7a2.4 2.8 0 1 0 4.8 0a2.4 2.8 0 1 0 -4.8 0M918.7 1006.3a2.4 2.8 0 1 0 4.8 0a2.4 2.8 0 1 0 -4.8 0M919.5 996.7a2.4 2.8 0 1 0 4.8 0a2.4 2.8 0 1 0 -4.8 0M917.1 1011.1a2.4 2.8 0 1 0 4.8 0a2.4 2.8 0 1 0 -4.8 0M921.1 1009.5a2.4 2.8 0 1 0 4.8 0a2.4 2.8 0 1 0 -4.8 0M922.7 1011.9a2.4 2.8 0 1 0 4.8 0a2.4 2.8 0 1 0 -4.8 0M924.3 1015.1a2.4 2.8 0 1 0 4.8 0a2.4 2.8 0 1 0 -4.8 0M926.7 1017.5a2.4 2.8 0 1 0 4.8 0a2.4 2.8 0 1 0 -4.8 0M929.1 1018.3a2.4 2.8 0 1 0 4.8 0a2.4 2.8 0 1 0 -4.8 0M931.5 1018.3a2.4 2.8 0 1 0 4.8 0a2.4 2.8 0 1 0 -4.8 0M934.7 1034.2a2.4 2.8 0 1 0 4.8 0a2.4 2.8 0 1 0 -4.8 0M940.3 1027a2.4 2.8 0 1 0 4.8 0a2.4 2.8 0 1 0 -4.8 0M941.9 1031a2.4 2.8 0 1 0 4.8 0a2.4 2.8 0 1 0 -4.8 0M944.2 1030.2a2.4 2.8 0 1 0 4.8 0a2.4 2.8 0 1 0 -4.8 0M943.4 1043.8a2.4 2.8 0 1 0 4.8 0a2.4 2.8 0 1 0 -4.8 0M945 1034.2a2.4 2.8 0 1 0 4.8 0a2.4 2.8 0 1 0 -4.8 0M946.6 1035.8a2.4 2.8 0 1 0 4.8 0a2.4 2.8 0 1 0 -4.8 0M949.8 1039a2.4 2.8 0 1 0 4.8 0a2.4 2.8 0 1 0 -4.8 0M953 1051a2.4 2.8 0 1 0 4.8 0a2.4 2.8 0 1 0 -4.8 0M954.6 1047a2.4 2.8 0 1 0 4.8 0a2.4 2.8 0 1 0 -4.8 0M957 1046.2a2.4 2.8 0 1 0 4.8 0a2.4 2.8 0 1 0 -4.8 0M957.8 1048.6a2.4 2.8 0 1 0 4.8 0a2.4 2.8 0 1 0 -4.8 0M959.4 1053.4a2.4 2.8 0 1 0 4.8 0a2.4 2.8 0 1 0 -4.8 0M963.4 1052.6a2.4 2.8 0 1 0 4.8 0a2.4 2.8 0 1 0 -4.8 0M965.8 1024.7a2.4 2.8 0 1 0 4.8 0a2.4 2.8 0 1 0 -4.8 0M970.6 995.9a2.4 2.8 0 1 0 4.8 0a2.4 2.8 0 1 0 -4.8 0M973 998.3a2.4 2.8 0 1 0 4.8 0a2.4 2.8 0 1 0 -4.8 0M975.3 1004.7a2.4 2.8 0 1 0 4.8 0a2.4 2.8 0 1 0 -4.8 0M976.9 1011.9a2.4 2.8 0 1 0 4.8 0a2.4 2.8 0 1 0 -4.8 0M973.8 1062.1a2.4 2.8 0 1 0 4.8 0a2.4 2.8 0 1 0 -4.8 0M970.6 1066.9a2.4 2.8 0 1 0 4.8 0a2.4 2.8 0 1 0 -4.8 0M976.1 1064.5a2.4 2.8 0 1 0 4.8 0a2.4 2.8 0 1 0 -4.8 0M976.9 1069.3a2.4 2.8 0 1 0 4.8 0a2.4 2.8 0 1 0 -4.8 0M976.1 1076.5a2.4 2.8 0 1 0 4.8 0a2.4 2.8 0 1 0 -4.8 0M978.4 1000.7a2.4 2.8 0 1 0 4.8 0a2.4 2.8 0 1 0 -4.8 0M979.2 1003.9a2.4 2.8 0 1 0 4.8 0a2.4 2.8 0 1 0 -4.8 0M978.4 1013.5a2.4 2.8 0 1 0 4.8 0a2.4 2.8 0 1 0 -4.8 0M983.2 1008.7a2.4 2.8 0 1 0 4.8 0a2.4 2.8 0 1 0 -4.8 0M989.5 1015.9a2.4 2.8 0 1 0 4.8 0a2.4 2.8 0 1 0 -4.8 0M991.9 1018.3a2.4 2.8 0 1 0 4.8 0a2.4 2.8 0 1 0 -4.8 0M993.5 1020.7a2.4 2.8 0 1 0 4.8 0a2.4 2.8 0 1 0 -4.8 0M998.3 1021.5a2.4 2.8 0 1 0 4.8 0a2.4 2.8 0 1 0 -4.8 0M994.3 1026.3a2.4 2.8 0 1 0 4.8 0a2.4 2.8 0 1 0 -4.8 0M997.5 1027.8a2.4 2.8 0 1 0 4.8 0a2.4 2.8 0 1 0 -4.8 0M998.3 1031.8a2.4 2.8 0 1 0 4.8 0a2.4 2.8 0 1 0 -4.8 0M1000.7 1029.4a2.4 2.8 0 1 0 4.8 0a2.4 2.8 0 1 0 -4.8 0M1002.3 1031a2.4 2.8 0 1 0 4.8 0a2.4 2.8 0 1 0 -4.8 0M1003.9 1032.6a2.4 2.8 0 1 0 4.8 0a2.4 2.8 0 1 0 -4.8 0M1005.5 1031a2.4 2.8 0 1 0 4.8 0a2.4 2.8 0 1 0 -4.8 0M1007.1 1034.2a2.4 2.8 0 1 0 4.8 0a2.4 2.8 0 1 0 -4.8 0M1009.5 1035.8a2.4 2.8 0 1 0 4.8 0a2.4 2.8 0 1 0 -4.8 0M1010.3 1039a2.4 2.8 0 1 0 4.8 0a2.4 2.8 0 1 0 -4.8 0M1011.9 1041.4a2.4 2.8 0 1 0 4.8 0a2.4 2.8 0 1 0 -4.8 0M1008.7 1043.8a2.4 2.8 0 1 0 4.8 0a2.4 2.8 0 1 0 -4.8 0M1012.7 1050.2a2.4 2.8 0 1 0 4.8 0a2.4 2.8 0 1 0 -4.8 0M1018.2 1051.8a2.4 2.8 0 1 0 4.8 0a2.4 2.8 0 1 0 -4.8 0M1027 1050.2a2.4 2.8 0 1 0 4.8 0a2.4 2.8 0 1 0 -4.8 0M1027.8 1053.4a2.4 2.8 0 1 0 4.8 0a2.4 2.8 0 1 0 -4.8 0M1023 1059.7a2.4 2.8 0 1 0 4.8 0a2.4 2.8 0 1 0 -4.8 0M1030.2 1058.1a2.4 2.8 0 1 0 4.8 0a2.4 2.8 0 1 0 -4.8 0M1032.6 1058.9a2.4 2.8 0 1 0 4.8 0a2.4 2.8 0 1 0 -4.8 0M1034.2 1060.5a2.4 2.8 0 1 0 4.8 0a2.4 2.8 0 1 0 -4.8 0M1035.8 1062.9a2.4 2.8 0 1 0 4.8 0a2.4 2.8 0 1 0 -4.8 0M1039 1065.3a2.4 2.8 0 1 0 4.8 0a2.4 2.8 0 1 0 -4.8 0M1028.6 1066.9a2.4 2.8 0 1 0 4.8 0a2.4 2.8 0 1 0 -4.8 0M1034.2 1067.7a2.4 2.8 0 1 0 4.8 0a2.4 2.8 0 1 0 -4.8 0M1040.6 1074.1a2.4 2.8 0 1 0 4.8 0a2.4 2.8 0 1 0 -4.8 0M1044.6 1072.5a2.4 2.8 0 1 0 4.8 0a2.4 2.8 0 1 0 -4.8 0M1043 1079.7a2.4 2.8 0 1 0 4.8 0a2.4 2.8 0 1 0 -4.8 0M1047.8 1079.7a2.4 2.8 0 1 0 4.8 0a2.4 2.8 0 1 0 -4.8 0M1052.5 1078.1a2.4 2.8 0 1 0 4.8 0a2.4 2.8 0 1 0 -4.8 0M1054.1 1080.5a2.4 2.8 0 1 0 4.8 0a2.4 2.8 0 1 0 -4.8 0M1055.7 1082.9a2.4 2.8 0 1 0 4.8 0a2.4 2.8 0 1 0 -4.8 0M1056.5 1085.3a2.4 2.8 0 1 0 4.8 0a2.4 2.8 0 1 0 -4.8 0M1058.1 1086.9a2.4 2.8 0 1 0 4.8 0a2.4 2.8 0 1 0 -4.8 0M1055.7 1090a2.4 2.8 0 1 0 4.8 0a2.4 2.8 0 1 0 -4.8 0M1060.5 1089.3a2.4 2.8 0 1 0 4.8 0a2.4 2.8 0 1 0 -4.8 0M1062.1 1090a2.4 2.8 0 1 0 4.8 0a2.4 2.8 0 1 0 -4.8 0M1064.5 1089.3a2.4 2.8 0 1 0 4.8 0a2.4 2.8 0 1 0 -4.8 0M1055.7 1091.6a2.4 2.8 0 1 0 4.8 0a2.4 2.8 0 1 0 -4.8 0M1062.1 1103.6a2.4 2.8 0 1 0 4.8 0a2.4 2.8 0 1 0 -4.8 0M1064.5 1101.2a2.4 2.8 0 1 0 4.8 0a2.4 2.8 0 1 0 -4.8 0M1069.3 1100.4a2.4 2.8 0 1 0 4.8 0a2.4 2.8 0 1 0 -4.8 0M1072.5 1101.2a2.4 2.8 0 1 0 4.8 0a2.4 2.8 0 1 0 -4.8 0M1073.3 1103.6a2.4 2.8 0 1 0 4.8 0a2.4 2.8 0 1 0 -4.8 0M1075.7 1106a2.4 2.8 0 1 0 4.8 0a2.4 2.8 0 1 0 -4.8 0M1077.3 1104.4a2.4 2.8 0 1 0 4.8 0a2.4 2.8 0 1 0 -4.8 0M1078.9 1109.2a2.4 2.8 0 1 0 4.8 0a2.4 2.8 0 1 0 -4.8 0M1079.7 1112.4a2.4 2.8 0 1 0 4.8 0a2.4 2.8 0 1 0 -4.8 0M1086 1114a2.4 2.8 0 1 0 4.8 0a2.4 2.8 0 1 0 -4.8 0M1087.6 1116.4a2.4 2.8 0 1 0 4.8 0a2.4 2.8 0 1 0 -4.8 0M1089.2 1119.6a2.4 2.8 0 1 0 4.8 0a2.4 2.8 0 1 0 -4.8 0M1094 1128.3a2.4 2.8 0 1 0 4.8 0a2.4 2.8 0 1 0 -4.8 0M1098.8 1121.9a2.4 2.8 0 1 0 4.8 0a2.4 2.8 0 1 0 -4.8 0M1100.4 1125.1a2.4 2.8 0 1 0 4.8 0a2.4 2.8 0 1 0 -4.8 0M1102 1129.1a2.4 2.8 0 1 0 4.8 0a2.4 2.8 0 1 0 -4.8 0M1108.4 1135.5a2.4 2.8 0 1 0 4.8 0a2.4 2.8 0 1 0 -4.8 0M1110 1137.9a2.4 2.8 0 1 0 4.8 0a2.4 2.8 0 1 0 -4.8 0M1105.2 1142.7a2.4 2.8 0 1 0 4.8 0a2.4 2.8 0 1 0 -4.8 0M1111.6 1141.1a2.4 2.8 0 1 0 4.8 0a2.4 2.8 0 1 0 -4.8 0M1114.7 1143.5a2.4 2.8 0 1 0 4.8 0a2.4 2.8 0 1 0 -4.8 0M1117.9 1144.3a2.4 2.8 0 1 0 4.8 0a2.4 2.8 0 1 0 -4.8 0M1110 1151.5a2.4 2.8 0 1 0 4.8 0a2.4 2.8 0 1 0 -4.8 0M1117.1 1154.6a2.4 2.8 0 1 0 4.8 0a2.4 2.8 0 1 0 -4.8 0M1121.9 1147.5a2.4 2.8 0 1 0 4.8 0a2.4 2.8 0 1 0 -4.8 0M1123.5 1149.9a2.4 2.8 0 1 0 4.8 0a2.4 2.8 0 1 0 -4.8 0M1125.1 1152.2a2.4 2.8 0 1 0 4.8 0a2.4 2.8 0 1 0 -4.8 0M1127.5 1154.6a2.4 2.8 0 1 0 4.8 0a2.4 2.8 0 1 0 -4.8 0M1125.9 1158.6a2.4 2.8 0 1 0 4.8 0a2.4 2.8 0 1 0 -4.8 0M1128.3 1160.2a2.4 2.8 0 1 0 4.8 0a2.4 2.8 0 1 0 -4.8 0M1131.5 1157a2.4 2.8 0 1 0 4.8 0a2.4 2.8 0 1 0 -4.8 0M1133.9 1160.2a2.4 2.8 0 1 0 4.8 0a2.4 2.8 0 1 0 -4.8 0M1133.1 1163.4a2.4 2.8 0 1 0 4.8 0a2.4 2.8 0 1 0 -4.8 0M1129.9 1164.2a2.4 2.8 0 1 0 4.8 0a2.4 2.8 0 1 0 -4.8 0M1141.9 1165a2.4 2.8 0 1 0 4.8 0a2.4 2.8 0 1 0 -4.8 0M1144.2 1168.2a2.4 2.8 0 1 0 4.8 0a2.4 2.8 0 1 0 -4.8 0M1145.8 1170.6a2.4 2.8 0 1 0 4.8 0a2.4 2.8 0 1 0 -4.8 0M1142.7 1175.4a2.4 2.8 0 1 0 4.8 0a2.4 2.8 0 1 0 -4.8 0M1148.2 1173.8a2.4 2.8 0 1 0 4.8 0a2.4 2.8 0 1 0 -4.8 0M1149.8 1177a2.4 2.8 0 1 0 4.8 0a2.4 2.8 0 1 0 -4.8 0M1154.6 1179.4a2.4 2.8 0 1 0 4.8 0a2.4 2.8 0 1 0 -4.8 0M977.6 1064.5a2.4 2.8 0 1 0 4.8 0a2.4 2.8 0 1 0 -4.8 0M979.2 1070.9a2.4 2.8 0 1 0 4.8 0a2.4 2.8 0 1 0 -4.8 0M983.2 1076.5a2.4 2.8 0 1 0 4.8 0a2.4 2.8 0 1 0 -4.8 0M986.4 1079.7a2.4 2.8 0 1 0 4.8 0a2.4 2.8 0 1 0 -4.8 0M988.7 1081.3a2.4 2.8 0 1 0 4.8 0a2.4 2.8 0 1 0 -4.8 0M990.3 1080.5a2.4 2.8 0 1 0 4.8 0a2.4 2.8 0 1 0 -4.8 0M991.9 1082.9a2.4 2.8 0 1 0 4.8 0a2.4 2.8 0 1 0 -4.8 0M993.5 1084.5a2.4 2.8 0 1 0 4.8 0a2.4 2.8 0 1 0 -4.8 0M995.1 1086.1a2.4 2.8 0 1 0 4.8 0a2.4 2.8 0 1 0 -4.8 0M996.7 1087.7a2.4 2.8 0 1 0 4.8 0a2.4 2.8 0 1 0 -4.8 0M999.9 1089.3a2.4 2.8 0 1 0 4.8 0a2.4 2.8 0 1 0 -4.8 0M986.4 1088.5a2.4 2.8 0 1 0 4.8 0a2.4 2.8 0 1 0 -4.8 0M987.1 1092.4a2.4 2.8 0 1 0 4.8 0a2.4 2.8 0 1 0 -4.8 0M996.7 1092.4a2.4 2.8 0 1 0 4.8 0a2.4 2.8 0 1 0 -4.8 0M1001.5 1096.4a2.4 2.8 0 1 0 4.8 0a2.4 2.8 0 1 0 -4.8 0M1003.1 1102.8a2.4 2.8 0 1 0 4.8 0a2.4 2.8 0 1 0 -4.8 0M1007.9 1099.6a2.4 2.8 0 1 0 4.8 0a2.4 2.8 0 1 0 -4.8 0M1011.1 1101.2a2.4 2.8 0 1 0 4.8 0a2.4 2.8 0 1 0 -4.8 0M1013.5 1107.6a2.4 2.8 0 1 0 4.8 0a2.4 2.8 0 1 0 -4.8 0M1015.1 1110.8a2.4 2.8 0 1 0 4.8 0a2.4 2.8 0 1 0 -4.8 0M1016.7 1113.2a2.4 2.8 0 1 0 4.8 0a2.4 2.8 0 1 0 -4.8 0M1015.9 1114.8a2.4 2.8 0 1 0 4.8 0a2.4 2.8 0 1 0 -4.8 0M1018.2 1110.8a2.4 2.8 0 1 0 4.8 0a2.4 2.8 0 1 0 -4.8 0M1020.6 1113.2a2.4 2.8 0 1 0 4.8 0a2.4 2.8 0 1 0 -4.8 0M1023 1115.6a2.4 2.8 0 1 0 4.8 0a2.4 2.8 0 1 0 -4.8 0M1025.4 1116.4a2.4 2.8 0 1 0 4.8 0a2.4 2.8 0 1 0 -4.8 0M1027 1117.2a2.4 2.8 0 1 0 4.8 0a2.4 2.8 0 1 0 -4.8 0M1028.6 1118.8a2.4 2.8 0 1 0 4.8 0a2.4 2.8 0 1 0 -4.8 0M1030.2 1121.9a2.4 2.8 0 1 0 4.8 0a2.4 2.8 0 1 0 -4.8 0M1031 1125.9a2.4 2.8 0 1 0 4.8 0a2.4 2.8 0 1 0 -4.8 0M1031 1129.9a2.4 2.8 0 1 0 4.8 0a2.4 2.8 0 1 0 -4.8 0M1031.8 1133.1a2.4 2.8 0 1 0 4.8 0a2.4 2.8 0 1 0 -4.8 0M1037.4 1124.3a2.4 2.8 0 1 0 4.8 0a2.4 2.8 0 1 0 -4.8 0M1036.6 1130.7a2.4 2.8 0 1 0 4.8 0a2.4 2.8 0 1 0 -4.8 0M1038.2 1145.9a2.4 2.8 0 1 0 4.8 0a2.4 2.8 0 1 0 -4.8 0M1042.2 1130.7a2.4 2.8 0 1 0 4.8 0a2.4 2.8 0 1 0 -4.8 0M1043.8 1133.9a2.4 2.8 0 1 0 4.8 0a2.4 2.8 0 1 0 -4.8 0M1045.4 1135.5a2.4 2.8 0 1 0 4.8 0a2.4 2.8 0 1 0 -4.8 0M1046.2 1137.9a2.4 2.8 0 1 0 4.8 0a2.4 2.8 0 1 0 -4.8 0M1047.8 1137.1a2.4 2.8 0 1 0 4.8 0a2.4 2.8 0 1 0 -4.8 0M1049.4 1139.5a2.4 2.8 0 1 0 4.8 0a2.4 2.8 0 1 0 -4.8 0M1050.1 1142.7a2.4 2.8 0 1 0 4.8 0a2.4 2.8 0 1 0 -4.8 0M1052.5 1144.3a2.4 2.8 0 1 0 4.8 0a2.4 2.8 0 1 0 -4.8 0M1050.9 1150.7a2.4 2.8 0 1 0 4.8 0a2.4 2.8 0 1 0 -4.8 0M1054.1 1145.9a2.4 2.8 0 1 0 4.8 0a2.4 2.8 0 1 0 -4.8 0M1055.7 1148.3a2.4 2.8 0 1 0 4.8 0a2.4 2.8 0 1 0 -4.8 0M1057.3 1149.1a2.4 2.8 0 1 0 4.8 0a2.4 2.8 0 1 0 -4.8 0M1058.9 1151.5a2.4 2.8 0 1 0 4.8 0a2.4 2.8 0 1 0 -4.8 0M1060.5 1152.2a2.4 2.8 0 1 0 4.8 0a2.4 2.8 0 1 0 -4.8 0M1063.7 1153a2.4 2.8 0 1 0 4.8 0a2.4 2.8 0 1 0 -4.8 0M1065.3 1155.4a2.4 2.8 0 1 0 4.8 0a2.4 2.8 0 1 0 -4.8 0M1066.9 1161a2.4 2.8 0 1 0 4.8 0a2.4 2.8 0 1 0 -4.8 0M1068.5 1163.4a2.4 2.8 0 1 0 4.8 0a2.4 2.8 0 1 0 -4.8 0M1070.1 1165a2.4 2.8 0 1 0 4.8 0a2.4 2.8 0 1 0 -4.8 0M1071.7 1162.6a2.4 2.8 0 1 0 4.8 0a2.4 2.8 0 1 0 -4.8 0M1073.3 1165.8a2.4 2.8 0 1 0 4.8 0a2.4 2.8 0 1 0 -4.8 0M1069.3 1170.6a2.4 2.8 0 1 0 4.8 0a2.4 2.8 0 1 0 -4.8 0M1073.3 1173a2.4 2.8 0 1 0 4.8 0a2.4 2.8 0 1 0 -4.8 0M1074.9 1177.8a2.4 2.8 0 1 0 4.8 0a2.4 2.8 0 1 0 -4.8 0M1079.7 1169.8a2.4 2.8 0 1 0 4.8 0a2.4 2.8 0 1 0 -4.8 0M1081.2 1173a2.4 2.8 0 1 0 4.8 0a2.4 2.8 0 1 0 -4.8 0M1082.8 1174.6a2.4 2.8 0 1 0 4.8 0a2.4 2.8 0 1 0 -4.8 0M1087.6 1177.8a2.4 2.8 0 1 0 4.8 0a2.4 2.8 0 1 0 -4.8 0M1092.4 1179.4a2.4 2.8 0 1 0 4.8 0a2.4 2.8 0 1 0 -4.8 0M979.2 1129.1a2.4 2.8 0 1 0 4.8 0a2.4 2.8 0 1 0 -4.8 0M991.1 1128.3a2.4 2.8 0 1 0 4.8 0a2.4 2.8 0 1 0 -4.8 0M980 1135.5a2.4 2.8 0 1 0 4.8 0a2.4 2.8 0 1 0 -4.8 0M983.2 1139.5a2.4 2.8 0 1 0 4.8 0a2.4 2.8 0 1 0 -4.8 0M984.8 1141.1a2.4 2.8 0 1 0 4.8 0a2.4 2.8 0 1 0 -4.8 0M986.4 1142.7a2.4 2.8 0 1 0 4.8 0a2.4 2.8 0 1 0 -4.8 0M985.6 1145.9a2.4 2.8 0 1 0 4.8 0a2.4 2.8 0 1 0 -4.8 0M990.3 1149.1a2.4 2.8 0 1 0 4.8 0a2.4 2.8 0 1 0 -4.8 0M992.7 1153a2.4 2.8 0 1 0 4.8 0a2.4 2.8 0 1 0 -4.8 0M990.3 1155.4a2.4 2.8 0 1 0 4.8 0a2.4 2.8 0 1 0 -4.8 0M998.3 1155.4a2.4 2.8 0 1 0 4.8 0a2.4 2.8 0 1 0 -4.8 0M1001.5 1155.4a2.4 2.8 0 1 0 4.8 0a2.4 2.8 0 1 0 -4.8 0M1002.3 1164.2a2.4 2.8 0 1 0 4.8 0a2.4 2.8 0 1 0 -4.8 0M1010.3 1161a2.4 2.8 0 1 0 4.8 0a2.4 2.8 0 1 0 -4.8 0M1010.3 1165.8a2.4 2.8 0 1 0 4.8 0a2.4 2.8 0 1 0 -4.8 0M1012.7 1169a2.4 2.8 0 1 0 4.8 0a2.4 2.8 0 1 0 -4.8 0M1015.1 1170.6a2.4 2.8 0 1 0 4.8 0a2.4 2.8 0 1 0 -4.8 0M1017.5 1171.4a2.4 2.8 0 1 0 4.8 0a2.4 2.8 0 1 0 -4.8 0M1019 1173a2.4 2.8 0 1 0 4.8 0a2.4 2.8 0 1 0 -4.8 0M1011.1 1176.2a2.4 2.8 0 1 0 4.8 0a2.4 2.8 0 1 0 -4.8 0M1020.6 1176.2a2.4 2.8 0 1 0 4.8 0a2.4 2.8 0 1 0 -4.8 0M1023 1178.6a2.4 2.8 0 1 0 4.8 0a2.4 2.8 0 1 0 -4.8 0M977.6 1158.6a2.4 2.8 0 1 0 4.8 0a2.4 2.8 0 1 0 -4.8 0M984.8 1182.7a2.4 2.8 0 1 0 4.8 0a2.4 2.8 0 1 0 -4.8 0M1019 1185.1a2.4 2.8 0 1 0 4.8 0a2.4 2.8 0 1 0 -4.8 0M1022.2 1187.5a2.4 2.8 0 1 0 4.8 0a2.4 2.8 0 1 0 -4.8 0M1023.8 1181.9a2.4 2.8 0 1 0 4.8 0a2.4 2.8 0 1 0 -4.8 0M1025.4 1182.7a2.4 2.8 0 1 0 4.8 0a2.4 2.8 0 1 0 -4.8 0M1028.6 1183.5a2.4 2.8 0 1 0 4.8 0a2.4 2.8 0 1 0 -4.8 0M1029.4 1189.1a2.4 2.8 0 1 0 4.8 0a2.4 2.8 0 1 0 -4.8 0M1028.6 1190.7a2.4 2.8 0 1 0 4.8 0a2.4 2.8 0 1 0 -4.8 0M1033.4 1189.1a2.4 2.8 0 1 0 4.8 0a2.4 2.8 0 1 0 -4.8 0M1036.3 1193.9a2.4 2.8 0 1 0 4.8 0a2.4 2.8 0 1 0 -4.8 0M1083.6 1186.7a2.4 2.8 0 1 0 4.8 0a2.4 2.8 0 1 0 -4.8 0M1088.4 1183.5a2.4 2.8 0 1 0 4.8 0a2.4 2.8 0 1 0 -4.8 0M1091.6 1181.1a2.4 2.8 0 1 0 4.8 0a2.4 2.8 0 1 0 -4.8 0M1091.6 1193.1a2.4 2.8 0 1 0 4.8 0a2.4 2.8 0 1 0 -4.8 0M1095.6 1187.5a2.4 2.8 0 1 0 4.8 0a2.4 2.8 0 1 0 -4.8 0M1094.8 1188.3a2.4 2.8 0 1 0 4.8 0a2.4 2.8 0 1 0 -4.8 0M1099.6 1193.9a2.4 2.8 0 1 0 4.8 0a2.4 2.8 0 1 0 -4.8 0M1104.4 1192.3a2.4 2.8 0 1 0 4.8 0a2.4 2.8 0 1 0 -4.8 0M1106 1193.1a2.4 2.8 0 1 0 4.8 0a2.4 2.8 0 1 0 -4.8 0M1151.4 1190.7a2.4 2.8 0 1 0 4.8 0a2.4 2.8 0 1 0 -4.8 0M1153.8 1181.9a2.4 2.8 0 1 0 4.8 0a2.4 2.8 0 1 0 -4.8 0M1155.4 1184.3a2.4 2.8 0 1 0 4.8 0a2.4 2.8 0 1 0 -4.8 0M1157 1181.9a2.4 2.8 0 1 0 4.8 0a2.4 2.8 0 1 0 -4.8 0M1157.8 1187.5a2.4 2.8 0 1 0 4.8 0a2.4 2.8 0 1 0 -4.8 0M1159.4 1188.3a2.4 2.8 0 1 0 4.8 0a2.4 2.8 0 1 0 -4.8 0M1161 1189.9a2.4 2.8 0 1 0 4.8 0a2.4 2.8 0 1 0 -4.8 0M1160.2 1197.8a2.4 2.8 0 1 0 4.8 0a2.4 2.8 0 1 0 -4.8 0M1168.2 1199.4a2.4 2.8 0 1 0 4.8 0a2.4 2.8 0 1 0 -4.8 0M662.2 703.3a2.4 2.8 0 1 0 4.8 0a2.4 2.8 0 1 0 -4.8 0M669.9 711.7a2.4 2.8 0 1 0 4.8 0a2.4 2.8 0 1 0 -4.8 0" fill="#0000ff"/>
<defs><clipPath id="plotclip"><rect x="183" y="133" width="1050.3" height="1068.7"/></clipPath></defs>
<rect x="183" y="133" width="1050.3" height="1068.7" fill="none" stroke="#000" stroke-width="2.3"/>
<g>
<text id="title" transform="translate(289.6 55.5) scale(0.93 1)" x="0" y="0" font-size="56" textLength="899.2" lengthAdjust="spacing">Interstrip calibration using a triple <tspan font-style="italic">&#945;</tspan>-source</text>
<text id="xlab" transform="translate(434 1363.6) scale(0.93 1)" x="0" y="0" font-size="56" textLength="589.2" lengthAdjust="spacing">ADC channel of strip n (a.u.)</text>
<text id="ylab" transform="translate(57.7 1031.7) scale(0.83 1) rotate(-90)" x="0" y="0" font-size="56" textLength="729" lengthAdjust="spacingAndGlyphs">ADC channel of strip n+1 (a.u.)</text>
<text id="t90" transform="translate(800 731.5) scale(0.83 1)" x="0" y="0" font-size="56" textLength="50.3" lengthAdjust="spacingAndGlyphs">90</text>
</g>
<ellipse cx="851.5" cy="701.5" rx="5.6" ry="6.6" stroke="#000" stroke-width="1.7" fill="none"/>
<g id="cm" transform="translate(917 908.3) scale(0.83 1) rotate(40.2)" fill="#000"><text x="-68.9" y="-20" font-size="40">244</text><text transform="translate(-8.9 0) skewX(-14)" font-size="56" font-style="italic" stroke="#fff" stroke-width="0.8">Cm</text></g>
<g id="am" transform="translate(1102.5 1048.5) scale(0.83 1) rotate(40.2)" fill="#000"><text x="-74.3" y="-20" font-size="40">241</text><text transform="translate(-0.3 0) skewX(-14)" font-size="56" font-style="italic" stroke="#fff" stroke-width="0.8">Am</text></g>
<g id="pu" transform="translate(817.3 1058) scale(0.83 1) rotate(40.2)" fill="#000"><text x="-61.1" y="-20" font-size="40">239</text><text transform="translate(-1.1 0) skewX(-14)" font-size="56" font-style="italic" stroke="#fff" stroke-width="0.8">Pu</text></g>
<g id="yx" transform="translate(372.6 965.5) scale(0.83 1) rotate(-45)" fill="#ff0000"><text transform="translate(-60.1 0) skewX(-4)" font-size="61" font-style="italic" stroke="#fff" stroke-width="0.7">y</text><text x="-19.2" y="7" font-size="61" textLength="38.4" lengthAdjust="spacingAndGlyphs" stroke="#fff" stroke-width="0.6">=</text><text transform="translate(33.1 0) skewX(-4)" font-size="61" font-style="italic" stroke="#fff" stroke-width="0.7">x</text></g>
</svg>
</body></html>
